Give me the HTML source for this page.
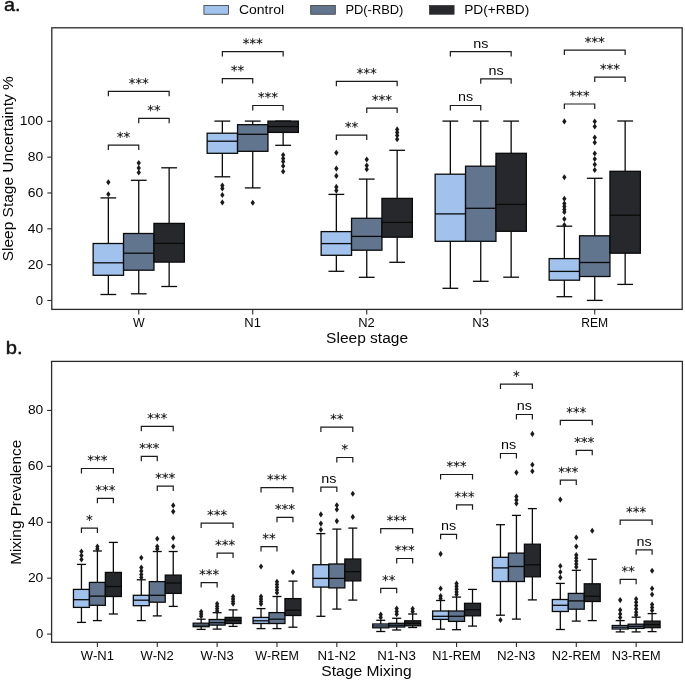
<!DOCTYPE html>
<html><head><meta charset="utf-8"><title>Sleep stage box plots</title>
<style>html,body{margin:0;padding:0;background:#fff;width:685px;height:682px;overflow:hidden}
svg text{font-family:"Liberation Sans",sans-serif;font-kerning:none} svg{filter:blur(0.3px)}</style></head>
<body>
<svg width="685" height="682" viewBox="0 0 685 682" style="position:absolute;left:0;top:0">
<rect width="685" height="682" fill="#fff"/>
<g font-family="Liberation Sans, sans-serif" style="font-kerning:none">
<text x="4.06" y="11" font-size="19" textLength="16.56" lengthAdjust="spacingAndGlyphs" fill="#111" stroke="#111" stroke-width="0.45">a.</text>
<text x="5.7" y="354.3" font-size="19" textLength="16.85" lengthAdjust="spacingAndGlyphs" fill="#111" stroke="#111" stroke-width="0.45">b.</text>
<rect x="203.9" y="5.5" width="24.6" height="8.75" fill="#a0c2ec" stroke="#383838" stroke-width="0.8"/>
<text x="238.99" y="14" font-size="12.8" textLength="45.04" lengthAdjust="spacingAndGlyphs" fill="#050505" >Control</text>
<rect x="310.7" y="5.5" width="24.6" height="8.75" fill="#61758f" stroke="#383838" stroke-width="0.8"/>
<text x="345.44" y="14" font-size="12.8" textLength="57.96" lengthAdjust="spacingAndGlyphs" fill="#050505" >PD(-RBD)</text>
<rect x="429.5" y="5.5" width="24.6" height="8.75" fill="#26282b" stroke="#383838" stroke-width="0.8"/>
<text x="464.18" y="14" font-size="12.8" textLength="65.07" lengthAdjust="spacingAndGlyphs" fill="#050505" >PD(+RBD)</text>
<line x1="47.3" y1="300.5" x2="51.8" y2="300.5" stroke="#2a2a2a" stroke-width="1.1"/>
<text x="35.76" y="304.6" font-size="13.31" textLength="7.33" lengthAdjust="spacingAndGlyphs" fill="#050505" >0</text>
<line x1="47.3" y1="264.66" x2="51.8" y2="264.66" stroke="#2a2a2a" stroke-width="1.1"/>
<text x="27.71" y="268.76" font-size="13.31" textLength="15.4" lengthAdjust="spacingAndGlyphs" fill="#050505" >20</text>
<line x1="47.3" y1="228.82" x2="51.8" y2="228.82" stroke="#2a2a2a" stroke-width="1.1"/>
<text x="27.79" y="232.92" font-size="13.31" textLength="15.32" lengthAdjust="spacingAndGlyphs" fill="#050505" >40</text>
<line x1="47.3" y1="192.98" x2="51.8" y2="192.98" stroke="#2a2a2a" stroke-width="1.1"/>
<text x="27.66" y="197.08" font-size="13.31" textLength="15.45" lengthAdjust="spacingAndGlyphs" fill="#050505" >60</text>
<line x1="47.3" y1="157.14" x2="51.8" y2="157.14" stroke="#2a2a2a" stroke-width="1.1"/>
<text x="27.74" y="161.24" font-size="13.31" textLength="15.37" lengthAdjust="spacingAndGlyphs" fill="#050505" >80</text>
<line x1="47.3" y1="121.3" x2="51.8" y2="121.3" stroke="#2a2a2a" stroke-width="1.1"/>
<text x="19.85" y="125.4" font-size="13.31" textLength="23.26" lengthAdjust="spacingAndGlyphs" fill="#050505" >100</text>
<text transform="translate(13.1,0) rotate(-90)" x="-261.3" y="0" font-size="14.7" textLength="185.06" lengthAdjust="spacingAndGlyphs" fill="#050505">Sleep Stage Uncertainty %</text>
<line x1="138.75" y1="309.4" x2="138.75" y2="314.4" stroke="#2a2a2a" stroke-width="1.1"/>
<text x="132.93" y="326.5" font-size="13.25" textLength="11.63" lengthAdjust="spacingAndGlyphs" fill="#050505" >W</text>
<line x1="252.75" y1="309.4" x2="252.75" y2="314.4" stroke="#2a2a2a" stroke-width="1.1"/>
<text x="244.26" y="326.5" font-size="13.25" textLength="16.62" lengthAdjust="spacingAndGlyphs" fill="#050505" >N1</text>
<line x1="366.75" y1="309.4" x2="366.75" y2="314.4" stroke="#2a2a2a" stroke-width="1.1"/>
<text x="358.26" y="326.5" font-size="13.25" textLength="16.54" lengthAdjust="spacingAndGlyphs" fill="#050505" >N2</text>
<line x1="480.75" y1="309.4" x2="480.75" y2="314.4" stroke="#2a2a2a" stroke-width="1.1"/>
<text x="472.25" y="326.5" font-size="13.25" textLength="16.72" lengthAdjust="spacingAndGlyphs" fill="#050505" >N3</text>
<line x1="594.75" y1="309.4" x2="594.75" y2="314.4" stroke="#2a2a2a" stroke-width="1.1"/>
<text x="581.3" y="326.5" font-size="13.25" textLength="26.91" lengthAdjust="spacingAndGlyphs" fill="#050505" >REM</text>
<text x="326.12" y="342.7" font-size="14.7" textLength="81.93" lengthAdjust="spacingAndGlyphs" fill="#050505" >Sleep stage</text>
<line x1="108.35" y1="197.9" x2="108.35" y2="243.5" stroke="#0a0a0a" stroke-width="1.3"/>
<line x1="108.35" y1="275.3" x2="108.35" y2="294.5" stroke="#0a0a0a" stroke-width="1.3"/>
<line x1="100.45" y1="197.9" x2="116.25" y2="197.9" stroke="#0a0a0a" stroke-width="1.3"/>
<line x1="100.45" y1="294.5" x2="116.25" y2="294.5" stroke="#0a0a0a" stroke-width="1.3"/>
<rect x="93.15" y="243.5" width="30.4" height="31.8" fill="#a0c2ec" stroke="#0a0a0a" stroke-width="1.3"/>
<line x1="93.15" y1="262.8" x2="123.55" y2="262.8" stroke="#0a0a0a" stroke-width="1.3"/>
<path d="M108.35 179.25L110.5 182.3L108.35 185.35L106.2 182.3Z" fill="#1a1a1a"/>
<path d="M108.35 191.25L110.5 194.3L108.35 197.35L106.2 194.3Z" fill="#1a1a1a"/>
<line x1="138.75" y1="180.3" x2="138.75" y2="233.5" stroke="#0a0a0a" stroke-width="1.3"/>
<line x1="138.75" y1="270.2" x2="138.75" y2="293.8" stroke="#0a0a0a" stroke-width="1.3"/>
<line x1="130.85" y1="180.3" x2="146.65" y2="180.3" stroke="#0a0a0a" stroke-width="1.3"/>
<line x1="130.85" y1="293.8" x2="146.65" y2="293.8" stroke="#0a0a0a" stroke-width="1.3"/>
<rect x="123.55" y="233.5" width="30.4" height="36.7" fill="#61758f" stroke="#0a0a0a" stroke-width="1.3"/>
<line x1="123.55" y1="253.2" x2="153.95" y2="253.2" stroke="#0a0a0a" stroke-width="1.3"/>
<path d="M138.75 159.95L140.9 163L138.75 166.05L136.6 163Z" fill="#1a1a1a"/>
<path d="M138.75 164.95L140.9 168L138.75 171.05L136.6 168Z" fill="#1a1a1a"/>
<path d="M138.75 169.45L140.9 172.5L138.75 175.55L136.6 172.5Z" fill="#1a1a1a"/>
<line x1="169.15" y1="167.8" x2="169.15" y2="223.4" stroke="#0a0a0a" stroke-width="1.3"/>
<line x1="169.15" y1="262.1" x2="169.15" y2="286.5" stroke="#0a0a0a" stroke-width="1.3"/>
<line x1="161.25" y1="167.8" x2="177.05" y2="167.8" stroke="#0a0a0a" stroke-width="1.3"/>
<line x1="161.25" y1="286.5" x2="177.05" y2="286.5" stroke="#0a0a0a" stroke-width="1.3"/>
<rect x="153.95" y="223.4" width="30.4" height="38.7" fill="#26282b" stroke="#0a0a0a" stroke-width="1.3"/>
<line x1="153.95" y1="243.4" x2="184.35" y2="243.4" stroke="#0a0a0a" stroke-width="1.3"/>
<line x1="222.35" y1="121.1" x2="222.35" y2="133.2" stroke="#0a0a0a" stroke-width="1.3"/>
<line x1="222.35" y1="153.3" x2="222.35" y2="176.8" stroke="#0a0a0a" stroke-width="1.3"/>
<line x1="214.45" y1="121.1" x2="230.25" y2="121.1" stroke="#0a0a0a" stroke-width="1.3"/>
<line x1="214.45" y1="176.8" x2="230.25" y2="176.8" stroke="#0a0a0a" stroke-width="1.3"/>
<rect x="207.15" y="133.2" width="30.4" height="20.1" fill="#a0c2ec" stroke="#0a0a0a" stroke-width="1.3"/>
<line x1="207.15" y1="141.2" x2="237.55" y2="141.2" stroke="#0a0a0a" stroke-width="1.3"/>
<path d="M222.35 182.45L224.5 185.5L222.35 188.55L220.2 185.5Z" fill="#1a1a1a"/>
<path d="M222.35 185.45L224.5 188.5L222.35 191.55L220.2 188.5Z" fill="#1a1a1a"/>
<path d="M222.35 191.95L224.5 195L222.35 198.05L220.2 195Z" fill="#1a1a1a"/>
<path d="M222.35 199.35L224.5 202.4L222.35 205.45L220.2 202.4Z" fill="#1a1a1a"/>
<line x1="252.75" y1="121.1" x2="252.75" y2="124.7" stroke="#0a0a0a" stroke-width="1.3"/>
<line x1="252.75" y1="151.3" x2="252.75" y2="187.9" stroke="#0a0a0a" stroke-width="1.3"/>
<line x1="244.85" y1="121.1" x2="260.65" y2="121.1" stroke="#0a0a0a" stroke-width="1.3"/>
<line x1="244.85" y1="187.9" x2="260.65" y2="187.9" stroke="#0a0a0a" stroke-width="1.3"/>
<rect x="237.55" y="124.7" width="30.4" height="26.6" fill="#61758f" stroke="#0a0a0a" stroke-width="1.3"/>
<line x1="237.55" y1="134.3" x2="267.95" y2="134.3" stroke="#0a0a0a" stroke-width="1.3"/>
<path d="M252.75 199.75L254.9 202.8L252.75 205.85L250.6 202.8Z" fill="#1a1a1a"/>
<line x1="283.15" y1="121.1" x2="283.15" y2="121.1" stroke="#0a0a0a" stroke-width="1.3"/>
<line x1="283.15" y1="132.4" x2="283.15" y2="145.3" stroke="#0a0a0a" stroke-width="1.3"/>
<line x1="275.25" y1="121.1" x2="291.05" y2="121.1" stroke="#0a0a0a" stroke-width="1.3"/>
<line x1="275.25" y1="145.3" x2="291.05" y2="145.3" stroke="#0a0a0a" stroke-width="1.3"/>
<rect x="267.95" y="121.1" width="30.4" height="11.3" fill="#26282b" stroke="#0a0a0a" stroke-width="1.3"/>
<line x1="267.95" y1="126.6" x2="298.35" y2="126.6" stroke="#0a0a0a" stroke-width="1.3"/>
<path d="M283.15 151.95L285.3 155L283.15 158.05L281 155Z" fill="#1a1a1a"/>
<path d="M283.15 155.45L285.3 158.5L283.15 161.55L281 158.5Z" fill="#1a1a1a"/>
<path d="M283.15 158.45L285.3 161.5L283.15 164.55L281 161.5Z" fill="#1a1a1a"/>
<path d="M283.15 162.95L285.3 166L283.15 169.05L281 166Z" fill="#1a1a1a"/>
<path d="M283.15 168.45L285.3 171.5L283.15 174.55L281 171.5Z" fill="#1a1a1a"/>
<line x1="336.35" y1="194.4" x2="336.35" y2="231.6" stroke="#0a0a0a" stroke-width="1.3"/>
<line x1="336.35" y1="255.3" x2="336.35" y2="271.3" stroke="#0a0a0a" stroke-width="1.3"/>
<line x1="328.45" y1="194.4" x2="344.25" y2="194.4" stroke="#0a0a0a" stroke-width="1.3"/>
<line x1="328.45" y1="271.3" x2="344.25" y2="271.3" stroke="#0a0a0a" stroke-width="1.3"/>
<rect x="321.15" y="231.6" width="30.4" height="23.7" fill="#a0c2ec" stroke="#0a0a0a" stroke-width="1.3"/>
<line x1="321.15" y1="243.6" x2="351.55" y2="243.6" stroke="#0a0a0a" stroke-width="1.3"/>
<path d="M336.35 149.75L338.5 152.8L336.35 155.85L334.2 152.8Z" fill="#1a1a1a"/>
<path d="M336.35 165.55L338.5 168.6L336.35 171.65L334.2 168.6Z" fill="#1a1a1a"/>
<path d="M336.35 172.85L338.5 175.9L336.35 178.95L334.2 175.9Z" fill="#1a1a1a"/>
<path d="M336.35 183.85L338.5 186.9L336.35 189.95L334.2 186.9Z" fill="#1a1a1a"/>
<path d="M336.35 187.55L338.5 190.6L336.35 193.65L334.2 190.6Z" fill="#1a1a1a"/>
<line x1="366.75" y1="179.1" x2="366.75" y2="218.3" stroke="#0a0a0a" stroke-width="1.3"/>
<line x1="366.75" y1="250.2" x2="366.75" y2="277.3" stroke="#0a0a0a" stroke-width="1.3"/>
<line x1="358.85" y1="179.1" x2="374.65" y2="179.1" stroke="#0a0a0a" stroke-width="1.3"/>
<line x1="358.85" y1="277.3" x2="374.65" y2="277.3" stroke="#0a0a0a" stroke-width="1.3"/>
<rect x="351.55" y="218.3" width="30.4" height="31.9" fill="#61758f" stroke="#0a0a0a" stroke-width="1.3"/>
<line x1="351.55" y1="236.4" x2="381.95" y2="236.4" stroke="#0a0a0a" stroke-width="1.3"/>
<path d="M366.75 156.45L368.9 159.5L366.75 162.55L364.6 159.5Z" fill="#1a1a1a"/>
<path d="M366.75 162.45L368.9 165.5L366.75 168.55L364.6 165.5Z" fill="#1a1a1a"/>
<path d="M366.75 166.25L368.9 169.3L366.75 172.35L364.6 169.3Z" fill="#1a1a1a"/>
<line x1="397.15" y1="150.3" x2="397.15" y2="198.4" stroke="#0a0a0a" stroke-width="1.3"/>
<line x1="397.15" y1="237.2" x2="397.15" y2="262.3" stroke="#0a0a0a" stroke-width="1.3"/>
<line x1="389.25" y1="150.3" x2="405.05" y2="150.3" stroke="#0a0a0a" stroke-width="1.3"/>
<line x1="389.25" y1="262.3" x2="405.05" y2="262.3" stroke="#0a0a0a" stroke-width="1.3"/>
<rect x="381.95" y="198.4" width="30.4" height="38.8" fill="#26282b" stroke="#0a0a0a" stroke-width="1.3"/>
<line x1="381.95" y1="222.4" x2="412.35" y2="222.4" stroke="#0a0a0a" stroke-width="1.3"/>
<path d="M397.15 126.35L399.3 129.4L397.15 132.45L395 129.4Z" fill="#1a1a1a"/>
<path d="M397.15 129.35L399.3 132.4L397.15 135.45L395 132.4Z" fill="#1a1a1a"/>
<path d="M397.15 132.35L399.3 135.4L397.15 138.45L395 135.4Z" fill="#1a1a1a"/>
<path d="M397.15 136.25L399.3 139.3L397.15 142.35L395 139.3Z" fill="#1a1a1a"/>
<line x1="450.35" y1="121.1" x2="450.35" y2="174.2" stroke="#0a0a0a" stroke-width="1.3"/>
<line x1="450.35" y1="241.3" x2="450.35" y2="288.3" stroke="#0a0a0a" stroke-width="1.3"/>
<line x1="442.45" y1="121.1" x2="458.25" y2="121.1" stroke="#0a0a0a" stroke-width="1.3"/>
<line x1="442.45" y1="288.3" x2="458.25" y2="288.3" stroke="#0a0a0a" stroke-width="1.3"/>
<rect x="435.15" y="174.2" width="30.4" height="67.1" fill="#a0c2ec" stroke="#0a0a0a" stroke-width="1.3"/>
<line x1="435.15" y1="213.9" x2="465.55" y2="213.9" stroke="#0a0a0a" stroke-width="1.3"/>
<line x1="480.75" y1="121.1" x2="480.75" y2="166.2" stroke="#0a0a0a" stroke-width="1.3"/>
<line x1="480.75" y1="241.3" x2="480.75" y2="281.3" stroke="#0a0a0a" stroke-width="1.3"/>
<line x1="472.85" y1="121.1" x2="488.65" y2="121.1" stroke="#0a0a0a" stroke-width="1.3"/>
<line x1="472.85" y1="281.3" x2="488.65" y2="281.3" stroke="#0a0a0a" stroke-width="1.3"/>
<rect x="465.55" y="166.2" width="30.4" height="75.1" fill="#61758f" stroke="#0a0a0a" stroke-width="1.3"/>
<line x1="465.55" y1="208.3" x2="495.95" y2="208.3" stroke="#0a0a0a" stroke-width="1.3"/>
<line x1="511.15" y1="121.1" x2="511.15" y2="153.3" stroke="#0a0a0a" stroke-width="1.3"/>
<line x1="511.15" y1="231.3" x2="511.15" y2="277.2" stroke="#0a0a0a" stroke-width="1.3"/>
<line x1="503.25" y1="121.1" x2="519.05" y2="121.1" stroke="#0a0a0a" stroke-width="1.3"/>
<line x1="503.25" y1="277.2" x2="519.05" y2="277.2" stroke="#0a0a0a" stroke-width="1.3"/>
<rect x="495.95" y="153.3" width="30.4" height="78" fill="#26282b" stroke="#0a0a0a" stroke-width="1.3"/>
<line x1="495.95" y1="204.4" x2="526.35" y2="204.4" stroke="#0a0a0a" stroke-width="1.3"/>
<line x1="564.35" y1="226.2" x2="564.35" y2="258.6" stroke="#0a0a0a" stroke-width="1.3"/>
<line x1="564.35" y1="280.2" x2="564.35" y2="296.7" stroke="#0a0a0a" stroke-width="1.3"/>
<line x1="556.45" y1="226.2" x2="572.25" y2="226.2" stroke="#0a0a0a" stroke-width="1.3"/>
<line x1="556.45" y1="296.7" x2="572.25" y2="296.7" stroke="#0a0a0a" stroke-width="1.3"/>
<rect x="549.15" y="258.6" width="30.4" height="21.6" fill="#a0c2ec" stroke="#0a0a0a" stroke-width="1.3"/>
<line x1="549.15" y1="271.4" x2="579.55" y2="271.4" stroke="#0a0a0a" stroke-width="1.3"/>
<path d="M564.35 118.35L566.5 121.4L564.35 124.45L562.2 121.4Z" fill="#1a1a1a"/>
<path d="M564.35 174.15L566.5 177.2L564.35 180.25L562.2 177.2Z" fill="#1a1a1a"/>
<path d="M564.35 195.65L566.5 198.7L564.35 201.75L562.2 198.7Z" fill="#1a1a1a"/>
<path d="M564.35 200.45L566.5 203.5L564.35 206.55L562.2 203.5Z" fill="#1a1a1a"/>
<path d="M564.35 203.45L566.5 206.5L564.35 209.55L562.2 206.5Z" fill="#1a1a1a"/>
<path d="M564.35 206.45L566.5 209.5L564.35 212.55L562.2 209.5Z" fill="#1a1a1a"/>
<path d="M564.35 208.95L566.5 212L564.35 215.05L562.2 212Z" fill="#1a1a1a"/>
<path d="M564.35 215.95L566.5 219L564.35 222.05L562.2 219Z" fill="#1a1a1a"/>
<path d="M564.35 221.95L566.5 225L564.35 228.05L562.2 225Z" fill="#1a1a1a"/>
<line x1="594.75" y1="178.3" x2="594.75" y2="235.8" stroke="#0a0a0a" stroke-width="1.3"/>
<line x1="594.75" y1="276.5" x2="594.75" y2="300.4" stroke="#0a0a0a" stroke-width="1.3"/>
<line x1="586.85" y1="178.3" x2="602.65" y2="178.3" stroke="#0a0a0a" stroke-width="1.3"/>
<line x1="586.85" y1="300.4" x2="602.65" y2="300.4" stroke="#0a0a0a" stroke-width="1.3"/>
<rect x="579.55" y="235.8" width="30.4" height="40.7" fill="#61758f" stroke="#0a0a0a" stroke-width="1.3"/>
<line x1="579.55" y1="262.5" x2="609.95" y2="262.5" stroke="#0a0a0a" stroke-width="1.3"/>
<path d="M594.75 118.45L596.9 121.5L594.75 124.55L592.6 121.5Z" fill="#1a1a1a"/>
<path d="M594.75 123.45L596.9 126.5L594.75 129.55L592.6 126.5Z" fill="#1a1a1a"/>
<path d="M594.75 134.45L596.9 137.5L594.75 140.55L592.6 137.5Z" fill="#1a1a1a"/>
<path d="M594.75 139.45L596.9 142.5L594.75 145.55L592.6 142.5Z" fill="#1a1a1a"/>
<path d="M594.75 150.45L596.9 153.5L594.75 156.55L592.6 153.5Z" fill="#1a1a1a"/>
<path d="M594.75 155.95L596.9 159L594.75 162.05L592.6 159Z" fill="#1a1a1a"/>
<path d="M594.75 161.45L596.9 164.5L594.75 167.55L592.6 164.5Z" fill="#1a1a1a"/>
<path d="M594.75 166.95L596.9 170L594.75 173.05L592.6 170Z" fill="#1a1a1a"/>
<line x1="625.15" y1="121" x2="625.15" y2="171.3" stroke="#0a0a0a" stroke-width="1.3"/>
<line x1="625.15" y1="253.2" x2="625.15" y2="284.4" stroke="#0a0a0a" stroke-width="1.3"/>
<line x1="617.25" y1="121" x2="633.05" y2="121" stroke="#0a0a0a" stroke-width="1.3"/>
<line x1="617.25" y1="284.4" x2="633.05" y2="284.4" stroke="#0a0a0a" stroke-width="1.3"/>
<rect x="609.95" y="171.3" width="30.4" height="81.9" fill="#26282b" stroke="#0a0a0a" stroke-width="1.3"/>
<line x1="609.95" y1="215.2" x2="640.35" y2="215.2" stroke="#0a0a0a" stroke-width="1.3"/>
<path d="M108.35 150.1V145.2H138.75V150.1" stroke="#1a1a1a" stroke-width="1.2" fill="none"/>
<path transform="translate(116.85,141.79) scale(0.00654,-0.00654)" d="M963 1247 604 1053 963 858 905 760 569 963V586H455V963L119 760L61 858L420 1053L61 1247L119 1346L455 1143V1520H569V1143L905 1346Z" fill="#111" stroke="#111" stroke-width="18.3" stroke-linejoin="round"/>
<path transform="translate(123.55,141.79) scale(0.00654,-0.00654)" d="M963 1247 604 1053 963 858 905 760 569 963V586H455V963L119 760L61 858L420 1053L61 1247L119 1346L455 1143V1520H569V1143L905 1346Z" fill="#111" stroke="#111" stroke-width="18.3" stroke-linejoin="round"/>
<path d="M138.75 123.3V118.4H169.15V123.3" stroke="#1a1a1a" stroke-width="1.2" fill="none"/>
<path transform="translate(147.25,114.99) scale(0.00654,-0.00654)" d="M963 1247 604 1053 963 858 905 760 569 963V586H455V963L119 760L61 858L420 1053L61 1247L119 1346L455 1143V1520H569V1143L905 1346Z" fill="#111" stroke="#111" stroke-width="18.3" stroke-linejoin="round"/>
<path transform="translate(153.95,114.99) scale(0.00654,-0.00654)" d="M963 1247 604 1053 963 858 905 760 569 963V586H455V963L119 760L61 858L420 1053L61 1247L119 1346L455 1143V1520H569V1143L905 1346Z" fill="#111" stroke="#111" stroke-width="18.3" stroke-linejoin="round"/>
<path d="M108.35 96.3V91.4H169.15V96.3" stroke="#1a1a1a" stroke-width="1.2" fill="none"/>
<path transform="translate(128.7,87.99) scale(0.00654,-0.00654)" d="M963 1247 604 1053 963 858 905 760 569 963V586H455V963L119 760L61 858L420 1053L61 1247L119 1346L455 1143V1520H569V1143L905 1346Z" fill="#111" stroke="#111" stroke-width="18.3" stroke-linejoin="round"/>
<path transform="translate(135.4,87.99) scale(0.00654,-0.00654)" d="M963 1247 604 1053 963 858 905 760 569 963V586H455V963L119 760L61 858L420 1053L61 1247L119 1346L455 1143V1520H569V1143L905 1346Z" fill="#111" stroke="#111" stroke-width="18.3" stroke-linejoin="round"/>
<path transform="translate(142.1,87.99) scale(0.00654,-0.00654)" d="M963 1247 604 1053 963 858 905 760 569 963V586H455V963L119 760L61 858L420 1053L61 1247L119 1346L455 1143V1520H569V1143L905 1346Z" fill="#111" stroke="#111" stroke-width="18.3" stroke-linejoin="round"/>
<path d="M252.75 110.4V105.5H283.15V110.4" stroke="#1a1a1a" stroke-width="1.2" fill="none"/>
<path transform="translate(257.9,102.09) scale(0.00654,-0.00654)" d="M963 1247 604 1053 963 858 905 760 569 963V586H455V963L119 760L61 858L420 1053L61 1247L119 1346L455 1143V1520H569V1143L905 1346Z" fill="#111" stroke="#111" stroke-width="18.3" stroke-linejoin="round"/>
<path transform="translate(264.6,102.09) scale(0.00654,-0.00654)" d="M963 1247 604 1053 963 858 905 760 569 963V586H455V963L119 760L61 858L420 1053L61 1247L119 1346L455 1143V1520H569V1143L905 1346Z" fill="#111" stroke="#111" stroke-width="18.3" stroke-linejoin="round"/>
<path transform="translate(271.3,102.09) scale(0.00654,-0.00654)" d="M963 1247 604 1053 963 858 905 760 569 963V586H455V963L119 760L61 858L420 1053L61 1247L119 1346L455 1143V1520H569V1143L905 1346Z" fill="#111" stroke="#111" stroke-width="18.3" stroke-linejoin="round"/>
<path d="M222.35 83.6V78.7H252.75V83.6" stroke="#1a1a1a" stroke-width="1.2" fill="none"/>
<path transform="translate(230.85,75.29) scale(0.00654,-0.00654)" d="M963 1247 604 1053 963 858 905 760 569 963V586H455V963L119 760L61 858L420 1053L61 1247L119 1346L455 1143V1520H569V1143L905 1346Z" fill="#111" stroke="#111" stroke-width="18.3" stroke-linejoin="round"/>
<path transform="translate(237.55,75.29) scale(0.00654,-0.00654)" d="M963 1247 604 1053 963 858 905 760 569 963V586H455V963L119 760L61 858L420 1053L61 1247L119 1346L455 1143V1520H569V1143L905 1346Z" fill="#111" stroke="#111" stroke-width="18.3" stroke-linejoin="round"/>
<path d="M222.35 56.5V51.6H283.15V56.5" stroke="#1a1a1a" stroke-width="1.2" fill="none"/>
<path transform="translate(242.7,48.19) scale(0.00654,-0.00654)" d="M963 1247 604 1053 963 858 905 760 569 963V586H455V963L119 760L61 858L420 1053L61 1247L119 1346L455 1143V1520H569V1143L905 1346Z" fill="#111" stroke="#111" stroke-width="18.3" stroke-linejoin="round"/>
<path transform="translate(249.4,48.19) scale(0.00654,-0.00654)" d="M963 1247 604 1053 963 858 905 760 569 963V586H455V963L119 760L61 858L420 1053L61 1247L119 1346L455 1143V1520H569V1143L905 1346Z" fill="#111" stroke="#111" stroke-width="18.3" stroke-linejoin="round"/>
<path transform="translate(256.1,48.19) scale(0.00654,-0.00654)" d="M963 1247 604 1053 963 858 905 760 569 963V586H455V963L119 760L61 858L420 1053L61 1247L119 1346L455 1143V1520H569V1143L905 1346Z" fill="#111" stroke="#111" stroke-width="18.3" stroke-linejoin="round"/>
<path d="M336.35 140.1V135.2H366.75V140.1" stroke="#1a1a1a" stroke-width="1.2" fill="none"/>
<path transform="translate(344.85,131.79) scale(0.00654,-0.00654)" d="M963 1247 604 1053 963 858 905 760 569 963V586H455V963L119 760L61 858L420 1053L61 1247L119 1346L455 1143V1520H569V1143L905 1346Z" fill="#111" stroke="#111" stroke-width="18.3" stroke-linejoin="round"/>
<path transform="translate(351.55,131.79) scale(0.00654,-0.00654)" d="M963 1247 604 1053 963 858 905 760 569 963V586H455V963L119 760L61 858L420 1053L61 1247L119 1346L455 1143V1520H569V1143L905 1346Z" fill="#111" stroke="#111" stroke-width="18.3" stroke-linejoin="round"/>
<path d="M366.75 113.1V108.2H397.15V113.1" stroke="#1a1a1a" stroke-width="1.2" fill="none"/>
<path transform="translate(371.9,104.79) scale(0.00654,-0.00654)" d="M963 1247 604 1053 963 858 905 760 569 963V586H455V963L119 760L61 858L420 1053L61 1247L119 1346L455 1143V1520H569V1143L905 1346Z" fill="#111" stroke="#111" stroke-width="18.3" stroke-linejoin="round"/>
<path transform="translate(378.6,104.79) scale(0.00654,-0.00654)" d="M963 1247 604 1053 963 858 905 760 569 963V586H455V963L119 760L61 858L420 1053L61 1247L119 1346L455 1143V1520H569V1143L905 1346Z" fill="#111" stroke="#111" stroke-width="18.3" stroke-linejoin="round"/>
<path transform="translate(385.3,104.79) scale(0.00654,-0.00654)" d="M963 1247 604 1053 963 858 905 760 569 963V586H455V963L119 760L61 858L420 1053L61 1247L119 1346L455 1143V1520H569V1143L905 1346Z" fill="#111" stroke="#111" stroke-width="18.3" stroke-linejoin="round"/>
<path d="M336.35 86.3V81.4H397.15V86.3" stroke="#1a1a1a" stroke-width="1.2" fill="none"/>
<path transform="translate(356.7,77.99) scale(0.00654,-0.00654)" d="M963 1247 604 1053 963 858 905 760 569 963V586H455V963L119 760L61 858L420 1053L61 1247L119 1346L455 1143V1520H569V1143L905 1346Z" fill="#111" stroke="#111" stroke-width="18.3" stroke-linejoin="round"/>
<path transform="translate(363.4,77.99) scale(0.00654,-0.00654)" d="M963 1247 604 1053 963 858 905 760 569 963V586H455V963L119 760L61 858L420 1053L61 1247L119 1346L455 1143V1520H569V1143L905 1346Z" fill="#111" stroke="#111" stroke-width="18.3" stroke-linejoin="round"/>
<path transform="translate(370.1,77.99) scale(0.00654,-0.00654)" d="M963 1247 604 1053 963 858 905 760 569 963V586H455V963L119 760L61 858L420 1053L61 1247L119 1346L455 1143V1520H569V1143L905 1346Z" fill="#111" stroke="#111" stroke-width="18.3" stroke-linejoin="round"/>
<path d="M450.35 110.4V105.5H480.75V110.4" stroke="#1a1a1a" stroke-width="1.2" fill="none"/>
<text x="458.03" y="101.3" font-size="13.5" textLength="15.18" lengthAdjust="spacingAndGlyphs" fill="#050505" >ns</text>
<path d="M480.75 83.7V78.8H511.15V83.7" stroke="#1a1a1a" stroke-width="1.2" fill="none"/>
<text x="488.43" y="74.6" font-size="13.5" textLength="15.18" lengthAdjust="spacingAndGlyphs" fill="#050505" >ns</text>
<path d="M450.35 56.6V51.7H511.15V56.6" stroke="#1a1a1a" stroke-width="1.2" fill="none"/>
<text x="473.23" y="47.5" font-size="13.5" textLength="15.18" lengthAdjust="spacingAndGlyphs" fill="#050505" >ns</text>
<path d="M564.35 108.9V104H594.75V108.9" stroke="#1a1a1a" stroke-width="1.2" fill="none"/>
<path transform="translate(569.5,100.59) scale(0.00654,-0.00654)" d="M963 1247 604 1053 963 858 905 760 569 963V586H455V963L119 760L61 858L420 1053L61 1247L119 1346L455 1143V1520H569V1143L905 1346Z" fill="#111" stroke="#111" stroke-width="18.3" stroke-linejoin="round"/>
<path transform="translate(576.2,100.59) scale(0.00654,-0.00654)" d="M963 1247 604 1053 963 858 905 760 569 963V586H455V963L119 760L61 858L420 1053L61 1247L119 1346L455 1143V1520H569V1143L905 1346Z" fill="#111" stroke="#111" stroke-width="18.3" stroke-linejoin="round"/>
<path transform="translate(582.9,100.59) scale(0.00654,-0.00654)" d="M963 1247 604 1053 963 858 905 760 569 963V586H455V963L119 760L61 858L420 1053L61 1247L119 1346L455 1143V1520H569V1143L905 1346Z" fill="#111" stroke="#111" stroke-width="18.3" stroke-linejoin="round"/>
<path d="M594.75 82.1V77.2H625.15V82.1" stroke="#1a1a1a" stroke-width="1.2" fill="none"/>
<path transform="translate(599.9,73.79) scale(0.00654,-0.00654)" d="M963 1247 604 1053 963 858 905 760 569 963V586H455V963L119 760L61 858L420 1053L61 1247L119 1346L455 1143V1520H569V1143L905 1346Z" fill="#111" stroke="#111" stroke-width="18.3" stroke-linejoin="round"/>
<path transform="translate(606.6,73.79) scale(0.00654,-0.00654)" d="M963 1247 604 1053 963 858 905 760 569 963V586H455V963L119 760L61 858L420 1053L61 1247L119 1346L455 1143V1520H569V1143L905 1346Z" fill="#111" stroke="#111" stroke-width="18.3" stroke-linejoin="round"/>
<path transform="translate(613.3,73.79) scale(0.00654,-0.00654)" d="M963 1247 604 1053 963 858 905 760 569 963V586H455V963L119 760L61 858L420 1053L61 1247L119 1346L455 1143V1520H569V1143L905 1346Z" fill="#111" stroke="#111" stroke-width="18.3" stroke-linejoin="round"/>
<path d="M564.35 55.1V50.2H625.15V55.1" stroke="#1a1a1a" stroke-width="1.2" fill="none"/>
<path transform="translate(584.7,46.79) scale(0.00654,-0.00654)" d="M963 1247 604 1053 963 858 905 760 569 963V586H455V963L119 760L61 858L420 1053L61 1247L119 1346L455 1143V1520H569V1143L905 1346Z" fill="#111" stroke="#111" stroke-width="18.3" stroke-linejoin="round"/>
<path transform="translate(591.4,46.79) scale(0.00654,-0.00654)" d="M963 1247 604 1053 963 858 905 760 569 963V586H455V963L119 760L61 858L420 1053L61 1247L119 1346L455 1143V1520H569V1143L905 1346Z" fill="#111" stroke="#111" stroke-width="18.3" stroke-linejoin="round"/>
<path transform="translate(598.1,46.79) scale(0.00654,-0.00654)" d="M963 1247 604 1053 963 858 905 760 569 963V586H455V963L119 760L61 858L420 1053L61 1247L119 1346L455 1143V1520H569V1143L905 1346Z" fill="#111" stroke="#111" stroke-width="18.3" stroke-linejoin="round"/>
<rect x="51.8" y="27.8" width="630.4" height="281.6" fill="none" stroke="#2a2a2a" stroke-width="1.3"/>
<line x1="47.1" y1="634.1" x2="51.6" y2="634.1" stroke="#2a2a2a" stroke-width="1.1"/>
<text x="35.96" y="638.1" font-size="13.31" textLength="7.33" lengthAdjust="spacingAndGlyphs" fill="#050505" >0</text>
<line x1="47.1" y1="578.18" x2="51.6" y2="578.18" stroke="#2a2a2a" stroke-width="1.1"/>
<text x="27.91" y="582.18" font-size="13.31" textLength="15.4" lengthAdjust="spacingAndGlyphs" fill="#050505" >20</text>
<line x1="47.1" y1="522.26" x2="51.6" y2="522.26" stroke="#2a2a2a" stroke-width="1.1"/>
<text x="27.99" y="526.26" font-size="13.31" textLength="15.32" lengthAdjust="spacingAndGlyphs" fill="#050505" >40</text>
<line x1="47.1" y1="466.34" x2="51.6" y2="466.34" stroke="#2a2a2a" stroke-width="1.1"/>
<text x="27.86" y="470.34" font-size="13.31" textLength="15.45" lengthAdjust="spacingAndGlyphs" fill="#050505" >60</text>
<line x1="47.1" y1="410.42" x2="51.6" y2="410.42" stroke="#2a2a2a" stroke-width="1.1"/>
<text x="27.94" y="414.42" font-size="13.31" textLength="15.37" lengthAdjust="spacingAndGlyphs" fill="#050505" >80</text>
<text transform="translate(21,0) rotate(-90)" x="-564.86" y="0" font-size="14.7" textLength="125.14" lengthAdjust="spacingAndGlyphs" fill="#050505">Mixing Prevalence</text>
<line x1="97.4" y1="642.3" x2="97.4" y2="646.9" stroke="#2a2a2a" stroke-width="1.1"/>
<text x="80.67" y="659.6" font-size="13.25" textLength="33.3" lengthAdjust="spacingAndGlyphs" fill="#050505" >W-N1</text>
<line x1="157.26" y1="642.3" x2="157.26" y2="646.9" stroke="#2a2a2a" stroke-width="1.1"/>
<text x="140.53" y="659.6" font-size="13.25" textLength="33.22" lengthAdjust="spacingAndGlyphs" fill="#050505" >W-N2</text>
<line x1="217.12" y1="642.3" x2="217.12" y2="646.9" stroke="#2a2a2a" stroke-width="1.1"/>
<text x="200.39" y="659.6" font-size="13.25" textLength="33.39" lengthAdjust="spacingAndGlyphs" fill="#050505" >W-N3</text>
<line x1="276.98" y1="642.3" x2="276.98" y2="646.9" stroke="#2a2a2a" stroke-width="1.1"/>
<text x="255.22" y="659.6" font-size="13.25" textLength="43.68" lengthAdjust="spacingAndGlyphs" fill="#050505" >W-REM</text>
<line x1="336.84" y1="642.3" x2="336.84" y2="646.9" stroke="#2a2a2a" stroke-width="1.1"/>
<text x="317.42" y="659.6" font-size="13.25" textLength="38.4" lengthAdjust="spacingAndGlyphs" fill="#050505" >N1-N2</text>
<line x1="396.7" y1="642.3" x2="396.7" y2="646.9" stroke="#2a2a2a" stroke-width="1.1"/>
<text x="377.27" y="659.6" font-size="13.25" textLength="38.57" lengthAdjust="spacingAndGlyphs" fill="#050505" >N1-N3</text>
<line x1="456.56" y1="642.3" x2="456.56" y2="646.9" stroke="#2a2a2a" stroke-width="1.1"/>
<text x="432.15" y="659.6" font-size="13.25" textLength="48.82" lengthAdjust="spacingAndGlyphs" fill="#050505" >N1-REM</text>
<line x1="516.42" y1="642.3" x2="516.42" y2="646.9" stroke="#2a2a2a" stroke-width="1.1"/>
<text x="496.99" y="659.6" font-size="13.25" textLength="38.57" lengthAdjust="spacingAndGlyphs" fill="#050505" >N2-N3</text>
<line x1="576.28" y1="642.3" x2="576.28" y2="646.9" stroke="#2a2a2a" stroke-width="1.1"/>
<text x="551.87" y="659.6" font-size="13.25" textLength="48.82" lengthAdjust="spacingAndGlyphs" fill="#050505" >N2-REM</text>
<line x1="636.14" y1="642.3" x2="636.14" y2="646.9" stroke="#2a2a2a" stroke-width="1.1"/>
<text x="611.73" y="659.6" font-size="13.25" textLength="48.82" lengthAdjust="spacingAndGlyphs" fill="#050505" >N3-REM</text>
<text x="321.31" y="676.2" font-size="14.7" textLength="90.33" lengthAdjust="spacingAndGlyphs" fill="#050505" >Stage Mixing</text>
<line x1="81.44" y1="564.4" x2="81.44" y2="589.4" stroke="#0a0a0a" stroke-width="1.3"/>
<line x1="81.44" y1="607.4" x2="81.44" y2="622.4" stroke="#0a0a0a" stroke-width="1.3"/>
<line x1="76.94" y1="564.4" x2="85.94" y2="564.4" stroke="#0a0a0a" stroke-width="1.3"/>
<line x1="76.94" y1="622.4" x2="85.94" y2="622.4" stroke="#0a0a0a" stroke-width="1.3"/>
<rect x="73.46" y="589.4" width="15.96" height="18" fill="#a0c2ec" stroke="#0a0a0a" stroke-width="1.3"/>
<line x1="73.46" y1="599.7" x2="89.42" y2="599.7" stroke="#0a0a0a" stroke-width="1.3"/>
<path d="M81.44 548.45L83.59 551.5L81.44 554.55L79.29 551.5Z" fill="#1a1a1a"/>
<path d="M81.44 552.45L83.59 555.5L81.44 558.55L79.29 555.5Z" fill="#1a1a1a"/>
<path d="M81.44 556.45L83.59 559.5L81.44 562.55L79.29 559.5Z" fill="#1a1a1a"/>
<line x1="97.4" y1="551" x2="97.4" y2="582.4" stroke="#0a0a0a" stroke-width="1.3"/>
<line x1="97.4" y1="605.3" x2="97.4" y2="620.6" stroke="#0a0a0a" stroke-width="1.3"/>
<line x1="92.9" y1="551" x2="101.9" y2="551" stroke="#0a0a0a" stroke-width="1.3"/>
<line x1="92.9" y1="620.6" x2="101.9" y2="620.6" stroke="#0a0a0a" stroke-width="1.3"/>
<rect x="89.42" y="582.4" width="15.96" height="22.9" fill="#61758f" stroke="#0a0a0a" stroke-width="1.3"/>
<line x1="89.42" y1="596.1" x2="105.38" y2="596.1" stroke="#0a0a0a" stroke-width="1.3"/>
<path d="M97.4 543.45L99.55 546.5L97.4 549.55L95.25 546.5Z" fill="#1a1a1a"/>
<path d="M97.4 545.95L99.55 549L97.4 552.05L95.25 549Z" fill="#1a1a1a"/>
<line x1="113.36" y1="542.4" x2="113.36" y2="572.4" stroke="#0a0a0a" stroke-width="1.3"/>
<line x1="113.36" y1="596.5" x2="113.36" y2="614" stroke="#0a0a0a" stroke-width="1.3"/>
<line x1="108.86" y1="542.4" x2="117.86" y2="542.4" stroke="#0a0a0a" stroke-width="1.3"/>
<line x1="108.86" y1="614" x2="117.86" y2="614" stroke="#0a0a0a" stroke-width="1.3"/>
<rect x="105.38" y="572.4" width="15.96" height="24.1" fill="#26282b" stroke="#0a0a0a" stroke-width="1.3"/>
<line x1="105.38" y1="586.5" x2="121.34" y2="586.5" stroke="#0a0a0a" stroke-width="1.3"/>
<line x1="141.3" y1="579.8" x2="141.3" y2="595.3" stroke="#0a0a0a" stroke-width="1.3"/>
<line x1="141.3" y1="605.7" x2="141.3" y2="620.6" stroke="#0a0a0a" stroke-width="1.3"/>
<line x1="136.8" y1="579.8" x2="145.8" y2="579.8" stroke="#0a0a0a" stroke-width="1.3"/>
<line x1="136.8" y1="620.6" x2="145.8" y2="620.6" stroke="#0a0a0a" stroke-width="1.3"/>
<rect x="133.32" y="595.3" width="15.96" height="10.4" fill="#a0c2ec" stroke="#0a0a0a" stroke-width="1.3"/>
<line x1="133.32" y1="600.2" x2="149.28" y2="600.2" stroke="#0a0a0a" stroke-width="1.3"/>
<path d="M141.3 554.75L143.45 557.8L141.3 560.85L139.15 557.8Z" fill="#1a1a1a"/>
<path d="M141.3 564.45L143.45 567.5L141.3 570.55L139.15 567.5Z" fill="#1a1a1a"/>
<path d="M141.3 567.95L143.45 571L141.3 574.05L139.15 571Z" fill="#1a1a1a"/>
<path d="M141.3 571.45L143.45 574.5L141.3 577.55L139.15 574.5Z" fill="#1a1a1a"/>
<path d="M141.3 574.45L143.45 577.5L141.3 580.55L139.15 577.5Z" fill="#1a1a1a"/>
<line x1="157.26" y1="551.5" x2="157.26" y2="581.6" stroke="#0a0a0a" stroke-width="1.3"/>
<line x1="157.26" y1="602.2" x2="157.26" y2="615.9" stroke="#0a0a0a" stroke-width="1.3"/>
<line x1="152.76" y1="551.5" x2="161.76" y2="551.5" stroke="#0a0a0a" stroke-width="1.3"/>
<line x1="152.76" y1="615.9" x2="161.76" y2="615.9" stroke="#0a0a0a" stroke-width="1.3"/>
<rect x="149.28" y="581.6" width="15.96" height="20.6" fill="#61758f" stroke="#0a0a0a" stroke-width="1.3"/>
<line x1="149.28" y1="595.3" x2="165.24" y2="595.3" stroke="#0a0a0a" stroke-width="1.3"/>
<path d="M157.26 535.75L159.41 538.8L157.26 541.85L155.11 538.8Z" fill="#1a1a1a"/>
<path d="M157.26 543.45L159.41 546.5L157.26 549.55L155.11 546.5Z" fill="#1a1a1a"/>
<path d="M157.26 545.95L159.41 549L157.26 552.05L155.11 549Z" fill="#1a1a1a"/>
<line x1="173.22" y1="551.5" x2="173.22" y2="575.1" stroke="#0a0a0a" stroke-width="1.3"/>
<line x1="173.22" y1="593.4" x2="173.22" y2="606.4" stroke="#0a0a0a" stroke-width="1.3"/>
<line x1="168.72" y1="551.5" x2="177.72" y2="551.5" stroke="#0a0a0a" stroke-width="1.3"/>
<line x1="168.72" y1="606.4" x2="177.72" y2="606.4" stroke="#0a0a0a" stroke-width="1.3"/>
<rect x="165.24" y="575.1" width="15.96" height="18.3" fill="#26282b" stroke="#0a0a0a" stroke-width="1.3"/>
<line x1="165.24" y1="583" x2="181.2" y2="583" stroke="#0a0a0a" stroke-width="1.3"/>
<path d="M173.22 502.35L175.37 505.4L173.22 508.45L171.07 505.4Z" fill="#1a1a1a"/>
<path d="M173.22 508.55L175.37 511.6L173.22 514.65L171.07 511.6Z" fill="#1a1a1a"/>
<path d="M173.22 534.95L175.37 538L173.22 541.05L171.07 538Z" fill="#1a1a1a"/>
<path d="M173.22 543.45L175.37 546.5L173.22 549.55L171.07 546.5Z" fill="#1a1a1a"/>
<line x1="201.16" y1="619.2" x2="201.16" y2="623.2" stroke="#0a0a0a" stroke-width="1.3"/>
<line x1="201.16" y1="626.7" x2="201.16" y2="629.4" stroke="#0a0a0a" stroke-width="1.3"/>
<line x1="196.66" y1="619.2" x2="205.66" y2="619.2" stroke="#0a0a0a" stroke-width="1.3"/>
<line x1="196.66" y1="629.4" x2="205.66" y2="629.4" stroke="#0a0a0a" stroke-width="1.3"/>
<rect x="193.18" y="623.2" width="15.96" height="3.5" fill="#a0c2ec" stroke="#0a0a0a" stroke-width="1.3"/>
<line x1="193.18" y1="625.1" x2="209.14" y2="625.1" stroke="#0a0a0a" stroke-width="1.3"/>
<path d="M201.16 608.65L203.31 611.7L201.16 614.75L199.01 611.7Z" fill="#1a1a1a"/>
<path d="M201.16 610.95L203.31 614L201.16 617.05L199.01 614Z" fill="#1a1a1a"/>
<path d="M201.16 613.25L203.31 616.3L201.16 619.35L199.01 616.3Z" fill="#1a1a1a"/>
<line x1="217.12" y1="612.7" x2="217.12" y2="619.5" stroke="#0a0a0a" stroke-width="1.3"/>
<line x1="217.12" y1="625.1" x2="217.12" y2="629.1" stroke="#0a0a0a" stroke-width="1.3"/>
<line x1="212.62" y1="612.7" x2="221.62" y2="612.7" stroke="#0a0a0a" stroke-width="1.3"/>
<line x1="212.62" y1="629.1" x2="221.62" y2="629.1" stroke="#0a0a0a" stroke-width="1.3"/>
<rect x="209.14" y="619.5" width="15.96" height="5.6" fill="#61758f" stroke="#0a0a0a" stroke-width="1.3"/>
<line x1="209.14" y1="622.7" x2="225.1" y2="622.7" stroke="#0a0a0a" stroke-width="1.3"/>
<path d="M217.12 600.75L219.27 603.8L217.12 606.85L214.97 603.8Z" fill="#1a1a1a"/>
<path d="M217.12 603.15L219.27 606.2L217.12 609.25L214.97 606.2Z" fill="#1a1a1a"/>
<path d="M217.12 605.55L219.27 608.6L217.12 611.65L214.97 608.6Z" fill="#1a1a1a"/>
<path d="M217.12 607.95L219.27 611L217.12 614.05L214.97 611Z" fill="#1a1a1a"/>
<line x1="233.08" y1="609.9" x2="233.08" y2="617.4" stroke="#0a0a0a" stroke-width="1.3"/>
<line x1="233.08" y1="623.5" x2="233.08" y2="626.4" stroke="#0a0a0a" stroke-width="1.3"/>
<line x1="228.58" y1="609.9" x2="237.58" y2="609.9" stroke="#0a0a0a" stroke-width="1.3"/>
<line x1="228.58" y1="626.4" x2="237.58" y2="626.4" stroke="#0a0a0a" stroke-width="1.3"/>
<rect x="225.1" y="617.4" width="15.96" height="6.1" fill="#26282b" stroke="#0a0a0a" stroke-width="1.3"/>
<line x1="225.1" y1="620.3" x2="241.06" y2="620.3" stroke="#0a0a0a" stroke-width="1.3"/>
<path d="M233.08 593.55L235.23 596.6L233.08 599.65L230.93 596.6Z" fill="#1a1a1a"/>
<path d="M233.08 595.95L235.23 599L233.08 602.05L230.93 599Z" fill="#1a1a1a"/>
<path d="M233.08 598.35L235.23 601.4L233.08 604.45L230.93 601.4Z" fill="#1a1a1a"/>
<path d="M233.08 600.75L235.23 603.8L233.08 606.85L230.93 603.8Z" fill="#1a1a1a"/>
<line x1="261.02" y1="608.6" x2="261.02" y2="617.4" stroke="#0a0a0a" stroke-width="1.3"/>
<line x1="261.02" y1="623.5" x2="261.02" y2="628.6" stroke="#0a0a0a" stroke-width="1.3"/>
<line x1="256.52" y1="608.6" x2="265.52" y2="608.6" stroke="#0a0a0a" stroke-width="1.3"/>
<line x1="256.52" y1="628.6" x2="265.52" y2="628.6" stroke="#0a0a0a" stroke-width="1.3"/>
<rect x="253.04" y="617.4" width="15.96" height="6.1" fill="#a0c2ec" stroke="#0a0a0a" stroke-width="1.3"/>
<line x1="253.04" y1="620.8" x2="269" y2="620.8" stroke="#0a0a0a" stroke-width="1.3"/>
<path d="M261.02 563.45L263.17 566.5L261.02 569.55L258.87 566.5Z" fill="#1a1a1a"/>
<path d="M261.02 593.55L263.17 596.6L261.02 599.65L258.87 596.6Z" fill="#1a1a1a"/>
<path d="M261.02 595.95L263.17 599L261.02 602.05L258.87 599Z" fill="#1a1a1a"/>
<path d="M261.02 598.35L263.17 601.4L261.02 604.45L258.87 601.4Z" fill="#1a1a1a"/>
<path d="M261.02 600.85L263.17 603.9L261.02 606.95L258.87 603.9Z" fill="#1a1a1a"/>
<line x1="276.98" y1="596.5" x2="276.98" y2="612.6" stroke="#0a0a0a" stroke-width="1.3"/>
<line x1="276.98" y1="623.5" x2="276.98" y2="628.6" stroke="#0a0a0a" stroke-width="1.3"/>
<line x1="272.48" y1="596.5" x2="281.48" y2="596.5" stroke="#0a0a0a" stroke-width="1.3"/>
<line x1="272.48" y1="628.6" x2="281.48" y2="628.6" stroke="#0a0a0a" stroke-width="1.3"/>
<rect x="269" y="612.6" width="15.96" height="10.9" fill="#61758f" stroke="#0a0a0a" stroke-width="1.3"/>
<line x1="269" y1="619.2" x2="284.96" y2="619.2" stroke="#0a0a0a" stroke-width="1.3"/>
<path d="M276.98 578.75L279.13 581.8L276.98 584.85L274.83 581.8Z" fill="#1a1a1a"/>
<path d="M276.98 581.45L279.13 584.5L276.98 587.55L274.83 584.5Z" fill="#1a1a1a"/>
<path d="M276.98 584.15L279.13 587.2L276.98 590.25L274.83 587.2Z" fill="#1a1a1a"/>
<path d="M276.98 586.95L279.13 590L276.98 593.05L274.83 590Z" fill="#1a1a1a"/>
<path d="M276.98 589.65L279.13 592.7L276.98 595.75L274.83 592.7Z" fill="#1a1a1a"/>
<line x1="292.94" y1="581.1" x2="292.94" y2="598.6" stroke="#0a0a0a" stroke-width="1.3"/>
<line x1="292.94" y1="615.5" x2="292.94" y2="627.2" stroke="#0a0a0a" stroke-width="1.3"/>
<line x1="288.44" y1="581.1" x2="297.44" y2="581.1" stroke="#0a0a0a" stroke-width="1.3"/>
<line x1="288.44" y1="627.2" x2="297.44" y2="627.2" stroke="#0a0a0a" stroke-width="1.3"/>
<rect x="284.96" y="598.6" width="15.96" height="16.9" fill="#26282b" stroke="#0a0a0a" stroke-width="1.3"/>
<line x1="284.96" y1="610.2" x2="300.92" y2="610.2" stroke="#0a0a0a" stroke-width="1.3"/>
<path d="M292.94 569.05L295.09 572.1L292.94 575.15L290.79 572.1Z" fill="#1a1a1a"/>
<line x1="320.88" y1="533.6" x2="320.88" y2="564.7" stroke="#0a0a0a" stroke-width="1.3"/>
<line x1="320.88" y1="587.1" x2="320.88" y2="616.3" stroke="#0a0a0a" stroke-width="1.3"/>
<line x1="316.38" y1="533.6" x2="325.38" y2="533.6" stroke="#0a0a0a" stroke-width="1.3"/>
<line x1="316.38" y1="616.3" x2="325.38" y2="616.3" stroke="#0a0a0a" stroke-width="1.3"/>
<rect x="312.9" y="564.7" width="15.96" height="22.4" fill="#a0c2ec" stroke="#0a0a0a" stroke-width="1.3"/>
<line x1="312.9" y1="578.4" x2="328.86" y2="578.4" stroke="#0a0a0a" stroke-width="1.3"/>
<path d="M320.88 511.35L323.03 514.4L320.88 517.45L318.73 514.4Z" fill="#1a1a1a"/>
<path d="M320.88 520.55L323.03 523.6L320.88 526.65L318.73 523.6Z" fill="#1a1a1a"/>
<path d="M320.88 526.75L323.03 529.8L320.88 532.85L318.73 529.8Z" fill="#1a1a1a"/>
<line x1="336.84" y1="529.1" x2="336.84" y2="564" stroke="#0a0a0a" stroke-width="1.3"/>
<line x1="336.84" y1="587.9" x2="336.84" y2="609.1" stroke="#0a0a0a" stroke-width="1.3"/>
<line x1="332.34" y1="529.1" x2="341.34" y2="529.1" stroke="#0a0a0a" stroke-width="1.3"/>
<line x1="332.34" y1="609.1" x2="341.34" y2="609.1" stroke="#0a0a0a" stroke-width="1.3"/>
<rect x="328.86" y="564" width="15.96" height="23.9" fill="#61758f" stroke="#0a0a0a" stroke-width="1.3"/>
<line x1="328.86" y1="578.4" x2="344.82" y2="578.4" stroke="#0a0a0a" stroke-width="1.3"/>
<path d="M336.84 502.15L338.99 505.2L336.84 508.25L334.69 505.2Z" fill="#1a1a1a"/>
<path d="M336.84 506.45L338.99 509.5L336.84 512.55L334.69 509.5Z" fill="#1a1a1a"/>
<path d="M336.84 518.05L338.99 521.1L336.84 524.15L334.69 521.1Z" fill="#1a1a1a"/>
<line x1="352.8" y1="528.1" x2="352.8" y2="559" stroke="#0a0a0a" stroke-width="1.3"/>
<line x1="352.8" y1="580.9" x2="352.8" y2="600.1" stroke="#0a0a0a" stroke-width="1.3"/>
<line x1="348.3" y1="528.1" x2="357.3" y2="528.1" stroke="#0a0a0a" stroke-width="1.3"/>
<line x1="348.3" y1="600.1" x2="357.3" y2="600.1" stroke="#0a0a0a" stroke-width="1.3"/>
<rect x="344.82" y="559" width="15.96" height="21.9" fill="#26282b" stroke="#0a0a0a" stroke-width="1.3"/>
<line x1="344.82" y1="571.7" x2="360.78" y2="571.7" stroke="#0a0a0a" stroke-width="1.3"/>
<path d="M352.8 490.75L354.95 493.8L352.8 496.85L350.65 493.8Z" fill="#1a1a1a"/>
<path d="M352.8 513.85L354.95 516.9L352.8 519.95L350.65 516.9Z" fill="#1a1a1a"/>
<line x1="380.74" y1="620.3" x2="380.74" y2="624" stroke="#0a0a0a" stroke-width="1.3"/>
<line x1="380.74" y1="627.8" x2="380.74" y2="631.5" stroke="#0a0a0a" stroke-width="1.3"/>
<line x1="376.24" y1="620.3" x2="385.24" y2="620.3" stroke="#0a0a0a" stroke-width="1.3"/>
<line x1="376.24" y1="631.5" x2="385.24" y2="631.5" stroke="#0a0a0a" stroke-width="1.3"/>
<rect x="372.76" y="624" width="15.96" height="3.8" fill="#a0c2ec" stroke="#0a0a0a" stroke-width="1.3"/>
<line x1="372.76" y1="626" x2="388.72" y2="626" stroke="#0a0a0a" stroke-width="1.3"/>
<path d="M380.74 611.55L382.89 614.6L380.74 617.65L378.59 614.6Z" fill="#1a1a1a"/>
<path d="M380.74 614.35L382.89 617.4L380.74 620.45L378.59 617.4Z" fill="#1a1a1a"/>
<line x1="396.7" y1="618.3" x2="396.7" y2="623.3" stroke="#0a0a0a" stroke-width="1.3"/>
<line x1="396.7" y1="627" x2="396.7" y2="630" stroke="#0a0a0a" stroke-width="1.3"/>
<line x1="392.2" y1="618.3" x2="401.2" y2="618.3" stroke="#0a0a0a" stroke-width="1.3"/>
<line x1="392.2" y1="630" x2="401.2" y2="630" stroke="#0a0a0a" stroke-width="1.3"/>
<rect x="388.72" y="623.3" width="15.96" height="3.7" fill="#61758f" stroke="#0a0a0a" stroke-width="1.3"/>
<line x1="388.72" y1="625.2" x2="404.68" y2="625.2" stroke="#0a0a0a" stroke-width="1.3"/>
<path d="M396.7 605.45L398.85 608.5L396.7 611.55L394.55 608.5Z" fill="#1a1a1a"/>
<path d="M396.7 608.35L398.85 611.4L396.7 614.45L394.55 611.4Z" fill="#1a1a1a"/>
<path d="M396.7 611.25L398.85 614.3L396.7 617.35L394.55 614.3Z" fill="#1a1a1a"/>
<line x1="412.66" y1="614" x2="412.66" y2="620.8" stroke="#0a0a0a" stroke-width="1.3"/>
<line x1="412.66" y1="625.8" x2="412.66" y2="627.5" stroke="#0a0a0a" stroke-width="1.3"/>
<line x1="408.16" y1="614" x2="417.16" y2="614" stroke="#0a0a0a" stroke-width="1.3"/>
<line x1="408.16" y1="627.5" x2="417.16" y2="627.5" stroke="#0a0a0a" stroke-width="1.3"/>
<rect x="404.68" y="620.8" width="15.96" height="5" fill="#26282b" stroke="#0a0a0a" stroke-width="1.3"/>
<line x1="404.68" y1="623.3" x2="420.64" y2="623.3" stroke="#0a0a0a" stroke-width="1.3"/>
<path d="M412.66 605.75L414.81 608.8L412.66 611.85L410.51 608.8Z" fill="#1a1a1a"/>
<path d="M412.66 608.45L414.81 611.5L412.66 614.55L410.51 611.5Z" fill="#1a1a1a"/>
<line x1="440.6" y1="600.5" x2="440.6" y2="611" stroke="#0a0a0a" stroke-width="1.3"/>
<line x1="440.6" y1="619.4" x2="440.6" y2="629.2" stroke="#0a0a0a" stroke-width="1.3"/>
<line x1="436.1" y1="600.5" x2="445.1" y2="600.5" stroke="#0a0a0a" stroke-width="1.3"/>
<line x1="436.1" y1="629.2" x2="445.1" y2="629.2" stroke="#0a0a0a" stroke-width="1.3"/>
<rect x="432.62" y="611" width="15.96" height="8.4" fill="#a0c2ec" stroke="#0a0a0a" stroke-width="1.3"/>
<line x1="432.62" y1="616.3" x2="448.58" y2="616.3" stroke="#0a0a0a" stroke-width="1.3"/>
<path d="M440.6 550.85L442.75 553.9L440.6 556.95L438.45 553.9Z" fill="#1a1a1a"/>
<path d="M440.6 585.45L442.75 588.5L440.6 591.55L438.45 588.5Z" fill="#1a1a1a"/>
<path d="M440.6 592.95L442.75 596L440.6 599.05L438.45 596Z" fill="#1a1a1a"/>
<path d="M440.6 595.45L442.75 598.5L440.6 601.55L438.45 598.5Z" fill="#1a1a1a"/>
<line x1="456.56" y1="597.1" x2="456.56" y2="611" stroke="#0a0a0a" stroke-width="1.3"/>
<line x1="456.56" y1="621.4" x2="456.56" y2="629.7" stroke="#0a0a0a" stroke-width="1.3"/>
<line x1="452.06" y1="597.1" x2="461.06" y2="597.1" stroke="#0a0a0a" stroke-width="1.3"/>
<line x1="452.06" y1="629.7" x2="461.06" y2="629.7" stroke="#0a0a0a" stroke-width="1.3"/>
<rect x="448.58" y="611" width="15.96" height="10.4" fill="#61758f" stroke="#0a0a0a" stroke-width="1.3"/>
<line x1="448.58" y1="616.3" x2="464.54" y2="616.3" stroke="#0a0a0a" stroke-width="1.3"/>
<path d="M456.56 580.45L458.71 583.5L456.56 586.55L454.41 583.5Z" fill="#1a1a1a"/>
<path d="M456.56 583.25L458.71 586.3L456.56 589.35L454.41 586.3Z" fill="#1a1a1a"/>
<path d="M456.56 586.05L458.71 589.1L456.56 592.15L454.41 589.1Z" fill="#1a1a1a"/>
<path d="M456.56 588.85L458.71 591.9L456.56 594.95L454.41 591.9Z" fill="#1a1a1a"/>
<path d="M456.56 591.45L458.71 594.5L456.56 597.55L454.41 594.5Z" fill="#1a1a1a"/>
<line x1="472.52" y1="589.4" x2="472.52" y2="603.3" stroke="#0a0a0a" stroke-width="1.3"/>
<line x1="472.52" y1="615.8" x2="472.52" y2="626.1" stroke="#0a0a0a" stroke-width="1.3"/>
<line x1="468.02" y1="589.4" x2="477.02" y2="589.4" stroke="#0a0a0a" stroke-width="1.3"/>
<line x1="468.02" y1="626.1" x2="477.02" y2="626.1" stroke="#0a0a0a" stroke-width="1.3"/>
<rect x="464.54" y="603.3" width="15.96" height="12.5" fill="#26282b" stroke="#0a0a0a" stroke-width="1.3"/>
<line x1="464.54" y1="609.7" x2="480.5" y2="609.7" stroke="#0a0a0a" stroke-width="1.3"/>
<line x1="500.46" y1="524.7" x2="500.46" y2="557.3" stroke="#0a0a0a" stroke-width="1.3"/>
<line x1="500.46" y1="581.5" x2="500.46" y2="615.2" stroke="#0a0a0a" stroke-width="1.3"/>
<line x1="495.96" y1="524.7" x2="504.96" y2="524.7" stroke="#0a0a0a" stroke-width="1.3"/>
<line x1="495.96" y1="615.2" x2="504.96" y2="615.2" stroke="#0a0a0a" stroke-width="1.3"/>
<rect x="492.48" y="557.3" width="15.96" height="24.2" fill="#a0c2ec" stroke="#0a0a0a" stroke-width="1.3"/>
<line x1="492.48" y1="567.9" x2="508.44" y2="567.9" stroke="#0a0a0a" stroke-width="1.3"/>
<path d="M500.46 616.95L502.61 620L500.46 623.05L498.31 620Z" fill="#1a1a1a"/>
<line x1="516.42" y1="515.4" x2="516.42" y2="553.1" stroke="#0a0a0a" stroke-width="1.3"/>
<line x1="516.42" y1="581.5" x2="516.42" y2="619.1" stroke="#0a0a0a" stroke-width="1.3"/>
<line x1="511.92" y1="515.4" x2="520.92" y2="515.4" stroke="#0a0a0a" stroke-width="1.3"/>
<line x1="511.92" y1="619.1" x2="520.92" y2="619.1" stroke="#0a0a0a" stroke-width="1.3"/>
<rect x="508.44" y="553.1" width="15.96" height="28.4" fill="#61758f" stroke="#0a0a0a" stroke-width="1.3"/>
<line x1="508.44" y1="566.5" x2="524.4" y2="566.5" stroke="#0a0a0a" stroke-width="1.3"/>
<path d="M516.42 469.55L518.57 472.6L516.42 475.65L514.27 472.6Z" fill="#1a1a1a"/>
<path d="M516.42 493.45L518.57 496.5L516.42 499.55L514.27 496.5Z" fill="#1a1a1a"/>
<path d="M516.42 496.95L518.57 500L516.42 503.05L514.27 500Z" fill="#1a1a1a"/>
<path d="M516.42 500.45L518.57 503.5L516.42 506.55L514.27 503.5Z" fill="#1a1a1a"/>
<line x1="532.38" y1="508.6" x2="532.38" y2="544.2" stroke="#0a0a0a" stroke-width="1.3"/>
<line x1="532.38" y1="576.8" x2="532.38" y2="599.9" stroke="#0a0a0a" stroke-width="1.3"/>
<line x1="527.88" y1="508.6" x2="536.88" y2="508.6" stroke="#0a0a0a" stroke-width="1.3"/>
<line x1="527.88" y1="599.9" x2="536.88" y2="599.9" stroke="#0a0a0a" stroke-width="1.3"/>
<rect x="524.4" y="544.2" width="15.96" height="32.6" fill="#26282b" stroke="#0a0a0a" stroke-width="1.3"/>
<line x1="524.4" y1="564.8" x2="540.36" y2="564.8" stroke="#0a0a0a" stroke-width="1.3"/>
<path d="M532.38 430.85L534.53 433.9L532.38 436.95L530.23 433.9Z" fill="#1a1a1a"/>
<path d="M532.38 461.65L534.53 464.7L532.38 467.75L530.23 464.7Z" fill="#1a1a1a"/>
<path d="M532.38 468.25L534.53 471.3L532.38 474.35L530.23 471.3Z" fill="#1a1a1a"/>
<line x1="560.32" y1="583.4" x2="560.32" y2="599.5" stroke="#0a0a0a" stroke-width="1.3"/>
<line x1="560.32" y1="611.5" x2="560.32" y2="629.5" stroke="#0a0a0a" stroke-width="1.3"/>
<line x1="555.82" y1="583.4" x2="564.82" y2="583.4" stroke="#0a0a0a" stroke-width="1.3"/>
<line x1="555.82" y1="629.5" x2="564.82" y2="629.5" stroke="#0a0a0a" stroke-width="1.3"/>
<rect x="552.34" y="599.5" width="15.96" height="12" fill="#a0c2ec" stroke="#0a0a0a" stroke-width="1.3"/>
<line x1="552.34" y1="605.3" x2="568.3" y2="605.3" stroke="#0a0a0a" stroke-width="1.3"/>
<path d="M560.32 496.55L562.47 499.6L560.32 502.65L558.17 499.6Z" fill="#1a1a1a"/>
<path d="M560.32 562.95L562.47 566L560.32 569.05L558.17 566Z" fill="#1a1a1a"/>
<path d="M560.32 568.95L562.47 572L560.32 575.05L558.17 572Z" fill="#1a1a1a"/>
<path d="M560.32 574.45L562.47 577.5L560.32 580.55L558.17 577.5Z" fill="#1a1a1a"/>
<line x1="576.28" y1="570.3" x2="576.28" y2="593.4" stroke="#0a0a0a" stroke-width="1.3"/>
<line x1="576.28" y1="609.2" x2="576.28" y2="621.1" stroke="#0a0a0a" stroke-width="1.3"/>
<line x1="571.78" y1="570.3" x2="580.78" y2="570.3" stroke="#0a0a0a" stroke-width="1.3"/>
<line x1="571.78" y1="621.1" x2="580.78" y2="621.1" stroke="#0a0a0a" stroke-width="1.3"/>
<rect x="568.3" y="593.4" width="15.96" height="15.8" fill="#61758f" stroke="#0a0a0a" stroke-width="1.3"/>
<line x1="568.3" y1="600.9" x2="584.26" y2="600.9" stroke="#0a0a0a" stroke-width="1.3"/>
<path d="M576.28 534.45L578.43 537.5L576.28 540.55L574.13 537.5Z" fill="#1a1a1a"/>
<path d="M576.28 543.45L578.43 546.5L576.28 549.55L574.13 546.5Z" fill="#1a1a1a"/>
<path d="M576.28 551.95L578.43 555L576.28 558.05L574.13 555Z" fill="#1a1a1a"/>
<path d="M576.28 554.95L578.43 558L576.28 561.05L574.13 558Z" fill="#1a1a1a"/>
<path d="M576.28 557.95L578.43 561L576.28 564.05L574.13 561Z" fill="#1a1a1a"/>
<path d="M576.28 560.95L578.43 564L576.28 567.05L574.13 564Z" fill="#1a1a1a"/>
<path d="M576.28 563.95L578.43 567L576.28 570.05L574.13 567Z" fill="#1a1a1a"/>
<line x1="592.24" y1="559.3" x2="592.24" y2="583.8" stroke="#0a0a0a" stroke-width="1.3"/>
<line x1="592.24" y1="601.5" x2="592.24" y2="620.6" stroke="#0a0a0a" stroke-width="1.3"/>
<line x1="587.74" y1="559.3" x2="596.74" y2="559.3" stroke="#0a0a0a" stroke-width="1.3"/>
<line x1="587.74" y1="620.6" x2="596.74" y2="620.6" stroke="#0a0a0a" stroke-width="1.3"/>
<rect x="584.26" y="583.8" width="15.96" height="17.7" fill="#26282b" stroke="#0a0a0a" stroke-width="1.3"/>
<line x1="584.26" y1="596.2" x2="600.22" y2="596.2" stroke="#0a0a0a" stroke-width="1.3"/>
<path d="M592.24 527.75L594.39 530.8L592.24 533.85L590.09 530.8Z" fill="#1a1a1a"/>
<line x1="620.18" y1="620.6" x2="620.18" y2="625.5" stroke="#0a0a0a" stroke-width="1.3"/>
<line x1="620.18" y1="629" x2="620.18" y2="631.9" stroke="#0a0a0a" stroke-width="1.3"/>
<line x1="615.68" y1="620.6" x2="624.68" y2="620.6" stroke="#0a0a0a" stroke-width="1.3"/>
<line x1="615.68" y1="631.9" x2="624.68" y2="631.9" stroke="#0a0a0a" stroke-width="1.3"/>
<rect x="612.2" y="625.5" width="15.96" height="3.5" fill="#a0c2ec" stroke="#0a0a0a" stroke-width="1.3"/>
<line x1="612.2" y1="627.2" x2="628.16" y2="627.2" stroke="#0a0a0a" stroke-width="1.3"/>
<path d="M620.18 597.05L622.33 600.1L620.18 603.15L618.03 600.1Z" fill="#1a1a1a"/>
<path d="M620.18 606.95L622.33 610L620.18 613.05L618.03 610Z" fill="#1a1a1a"/>
<path d="M620.18 610.95L622.33 614L620.18 617.05L618.03 614Z" fill="#1a1a1a"/>
<path d="M620.18 614.45L622.33 617.5L620.18 620.55L618.03 617.5Z" fill="#1a1a1a"/>
<line x1="636.14" y1="617.2" x2="636.14" y2="624.2" stroke="#0a0a0a" stroke-width="1.3"/>
<line x1="636.14" y1="628.4" x2="636.14" y2="631.9" stroke="#0a0a0a" stroke-width="1.3"/>
<line x1="631.64" y1="617.2" x2="640.64" y2="617.2" stroke="#0a0a0a" stroke-width="1.3"/>
<line x1="631.64" y1="631.9" x2="640.64" y2="631.9" stroke="#0a0a0a" stroke-width="1.3"/>
<rect x="628.16" y="624.2" width="15.96" height="4.2" fill="#61758f" stroke="#0a0a0a" stroke-width="1.3"/>
<line x1="628.16" y1="626.3" x2="644.12" y2="626.3" stroke="#0a0a0a" stroke-width="1.3"/>
<path d="M636.14 595.95L638.29 599L636.14 602.05L633.99 599Z" fill="#1a1a1a"/>
<path d="M636.14 599.25L638.29 602.3L636.14 605.35L633.99 602.3Z" fill="#1a1a1a"/>
<path d="M636.14 602.55L638.29 605.6L636.14 608.65L633.99 605.6Z" fill="#1a1a1a"/>
<path d="M636.14 605.85L638.29 608.9L636.14 611.95L633.99 608.9Z" fill="#1a1a1a"/>
<path d="M636.14 609.15L638.29 612.2L636.14 615.25L633.99 612.2Z" fill="#1a1a1a"/>
<path d="M636.14 611.95L638.29 615L636.14 618.05L633.99 615Z" fill="#1a1a1a"/>
<line x1="652.1" y1="613.6" x2="652.1" y2="621.1" stroke="#0a0a0a" stroke-width="1.3"/>
<line x1="652.1" y1="627.7" x2="652.1" y2="631.6" stroke="#0a0a0a" stroke-width="1.3"/>
<line x1="647.6" y1="613.6" x2="656.6" y2="613.6" stroke="#0a0a0a" stroke-width="1.3"/>
<line x1="647.6" y1="631.6" x2="656.6" y2="631.6" stroke="#0a0a0a" stroke-width="1.3"/>
<rect x="644.12" y="621.1" width="15.96" height="6.6" fill="#26282b" stroke="#0a0a0a" stroke-width="1.3"/>
<line x1="644.12" y1="624.6" x2="660.08" y2="624.6" stroke="#0a0a0a" stroke-width="1.3"/>
<path d="M652.1 567.65L654.25 570.7L652.1 573.75L649.95 570.7Z" fill="#1a1a1a"/>
<path d="M652.1 585.45L654.25 588.5L652.1 591.55L649.95 588.5Z" fill="#1a1a1a"/>
<path d="M652.1 591.45L654.25 594.5L652.1 597.55L649.95 594.5Z" fill="#1a1a1a"/>
<path d="M652.1 601.45L654.25 604.5L652.1 607.55L649.95 604.5Z" fill="#1a1a1a"/>
<path d="M652.1 604.45L654.25 607.5L652.1 610.55L649.95 607.5Z" fill="#1a1a1a"/>
<path d="M652.1 607.45L654.25 610.5L652.1 613.55L649.95 610.5Z" fill="#1a1a1a"/>
<path d="M81.44 533.1V528.2H97.4V533.1" stroke="#1a1a1a" stroke-width="1.2" fill="none"/>
<path transform="translate(86.07,524.79) scale(0.00654,-0.00654)" d="M963 1247 604 1053 963 858 905 760 569 963V586H455V963L119 760L61 858L420 1053L61 1247L119 1346L455 1143V1520H569V1143L905 1346Z" fill="#111" stroke="#111" stroke-width="18.3" stroke-linejoin="round"/>
<path d="M97.4 503.3V498.4H113.36V503.3" stroke="#1a1a1a" stroke-width="1.2" fill="none"/>
<path transform="translate(95.33,494.99) scale(0.00654,-0.00654)" d="M963 1247 604 1053 963 858 905 760 569 963V586H455V963L119 760L61 858L420 1053L61 1247L119 1346L455 1143V1520H569V1143L905 1346Z" fill="#111" stroke="#111" stroke-width="18.3" stroke-linejoin="round"/>
<path transform="translate(102.03,494.99) scale(0.00654,-0.00654)" d="M963 1247 604 1053 963 858 905 760 569 963V586H455V963L119 760L61 858L420 1053L61 1247L119 1346L455 1143V1520H569V1143L905 1346Z" fill="#111" stroke="#111" stroke-width="18.3" stroke-linejoin="round"/>
<path transform="translate(108.73,494.99) scale(0.00654,-0.00654)" d="M963 1247 604 1053 963 858 905 760 569 963V586H455V963L119 760L61 858L420 1053L61 1247L119 1346L455 1143V1520H569V1143L905 1346Z" fill="#111" stroke="#111" stroke-width="18.3" stroke-linejoin="round"/>
<path d="M81.44 473.4V468.5H113.36V473.4" stroke="#1a1a1a" stroke-width="1.2" fill="none"/>
<path transform="translate(87.35,465.09) scale(0.00654,-0.00654)" d="M963 1247 604 1053 963 858 905 760 569 963V586H455V963L119 760L61 858L420 1053L61 1247L119 1346L455 1143V1520H569V1143L905 1346Z" fill="#111" stroke="#111" stroke-width="18.3" stroke-linejoin="round"/>
<path transform="translate(94.05,465.09) scale(0.00654,-0.00654)" d="M963 1247 604 1053 963 858 905 760 569 963V586H455V963L119 760L61 858L420 1053L61 1247L119 1346L455 1143V1520H569V1143L905 1346Z" fill="#111" stroke="#111" stroke-width="18.3" stroke-linejoin="round"/>
<path transform="translate(100.75,465.09) scale(0.00654,-0.00654)" d="M963 1247 604 1053 963 858 905 760 569 963V586H455V963L119 760L61 858L420 1053L61 1247L119 1346L455 1143V1520H569V1143L905 1346Z" fill="#111" stroke="#111" stroke-width="18.3" stroke-linejoin="round"/>
<path d="M157.26 491.1V486.2H173.22V491.1" stroke="#1a1a1a" stroke-width="1.2" fill="none"/>
<path transform="translate(155.19,482.79) scale(0.00654,-0.00654)" d="M963 1247 604 1053 963 858 905 760 569 963V586H455V963L119 760L61 858L420 1053L61 1247L119 1346L455 1143V1520H569V1143L905 1346Z" fill="#111" stroke="#111" stroke-width="18.3" stroke-linejoin="round"/>
<path transform="translate(161.89,482.79) scale(0.00654,-0.00654)" d="M963 1247 604 1053 963 858 905 760 569 963V586H455V963L119 760L61 858L420 1053L61 1247L119 1346L455 1143V1520H569V1143L905 1346Z" fill="#111" stroke="#111" stroke-width="18.3" stroke-linejoin="round"/>
<path transform="translate(168.59,482.79) scale(0.00654,-0.00654)" d="M963 1247 604 1053 963 858 905 760 569 963V586H455V963L119 760L61 858L420 1053L61 1247L119 1346L455 1143V1520H569V1143L905 1346Z" fill="#111" stroke="#111" stroke-width="18.3" stroke-linejoin="round"/>
<path d="M141.3 461.2V456.3H157.26V461.2" stroke="#1a1a1a" stroke-width="1.2" fill="none"/>
<path transform="translate(139.23,452.89) scale(0.00654,-0.00654)" d="M963 1247 604 1053 963 858 905 760 569 963V586H455V963L119 760L61 858L420 1053L61 1247L119 1346L455 1143V1520H569V1143L905 1346Z" fill="#111" stroke="#111" stroke-width="18.3" stroke-linejoin="round"/>
<path transform="translate(145.93,452.89) scale(0.00654,-0.00654)" d="M963 1247 604 1053 963 858 905 760 569 963V586H455V963L119 760L61 858L420 1053L61 1247L119 1346L455 1143V1520H569V1143L905 1346Z" fill="#111" stroke="#111" stroke-width="18.3" stroke-linejoin="round"/>
<path transform="translate(152.63,452.89) scale(0.00654,-0.00654)" d="M963 1247 604 1053 963 858 905 760 569 963V586H455V963L119 760L61 858L420 1053L61 1247L119 1346L455 1143V1520H569V1143L905 1346Z" fill="#111" stroke="#111" stroke-width="18.3" stroke-linejoin="round"/>
<path d="M141.3 431.3V426.4H173.22V431.3" stroke="#1a1a1a" stroke-width="1.2" fill="none"/>
<path transform="translate(147.21,422.99) scale(0.00654,-0.00654)" d="M963 1247 604 1053 963 858 905 760 569 963V586H455V963L119 760L61 858L420 1053L61 1247L119 1346L455 1143V1520H569V1143L905 1346Z" fill="#111" stroke="#111" stroke-width="18.3" stroke-linejoin="round"/>
<path transform="translate(153.91,422.99) scale(0.00654,-0.00654)" d="M963 1247 604 1053 963 858 905 760 569 963V586H455V963L119 760L61 858L420 1053L61 1247L119 1346L455 1143V1520H569V1143L905 1346Z" fill="#111" stroke="#111" stroke-width="18.3" stroke-linejoin="round"/>
<path transform="translate(160.61,422.99) scale(0.00654,-0.00654)" d="M963 1247 604 1053 963 858 905 760 569 963V586H455V963L119 760L61 858L420 1053L61 1247L119 1346L455 1143V1520H569V1143L905 1346Z" fill="#111" stroke="#111" stroke-width="18.3" stroke-linejoin="round"/>
<path d="M201.16 587.5V582.6H217.12V587.5" stroke="#1a1a1a" stroke-width="1.2" fill="none"/>
<path transform="translate(199.09,579.19) scale(0.00654,-0.00654)" d="M963 1247 604 1053 963 858 905 760 569 963V586H455V963L119 760L61 858L420 1053L61 1247L119 1346L455 1143V1520H569V1143L905 1346Z" fill="#111" stroke="#111" stroke-width="18.3" stroke-linejoin="round"/>
<path transform="translate(205.79,579.19) scale(0.00654,-0.00654)" d="M963 1247 604 1053 963 858 905 760 569 963V586H455V963L119 760L61 858L420 1053L61 1247L119 1346L455 1143V1520H569V1143L905 1346Z" fill="#111" stroke="#111" stroke-width="18.3" stroke-linejoin="round"/>
<path transform="translate(212.49,579.19) scale(0.00654,-0.00654)" d="M963 1247 604 1053 963 858 905 760 569 963V586H455V963L119 760L61 858L420 1053L61 1247L119 1346L455 1143V1520H569V1143L905 1346Z" fill="#111" stroke="#111" stroke-width="18.3" stroke-linejoin="round"/>
<path d="M217.12 558V553.1H233.08V558" stroke="#1a1a1a" stroke-width="1.2" fill="none"/>
<path transform="translate(215.05,549.69) scale(0.00654,-0.00654)" d="M963 1247 604 1053 963 858 905 760 569 963V586H455V963L119 760L61 858L420 1053L61 1247L119 1346L455 1143V1520H569V1143L905 1346Z" fill="#111" stroke="#111" stroke-width="18.3" stroke-linejoin="round"/>
<path transform="translate(221.75,549.69) scale(0.00654,-0.00654)" d="M963 1247 604 1053 963 858 905 760 569 963V586H455V963L119 760L61 858L420 1053L61 1247L119 1346L455 1143V1520H569V1143L905 1346Z" fill="#111" stroke="#111" stroke-width="18.3" stroke-linejoin="round"/>
<path transform="translate(228.45,549.69) scale(0.00654,-0.00654)" d="M963 1247 604 1053 963 858 905 760 569 963V586H455V963L119 760L61 858L420 1053L61 1247L119 1346L455 1143V1520H569V1143L905 1346Z" fill="#111" stroke="#111" stroke-width="18.3" stroke-linejoin="round"/>
<path d="M201.16 528V523.1H233.08V528" stroke="#1a1a1a" stroke-width="1.2" fill="none"/>
<path transform="translate(207.07,519.69) scale(0.00654,-0.00654)" d="M963 1247 604 1053 963 858 905 760 569 963V586H455V963L119 760L61 858L420 1053L61 1247L119 1346L455 1143V1520H569V1143L905 1346Z" fill="#111" stroke="#111" stroke-width="18.3" stroke-linejoin="round"/>
<path transform="translate(213.77,519.69) scale(0.00654,-0.00654)" d="M963 1247 604 1053 963 858 905 760 569 963V586H455V963L119 760L61 858L420 1053L61 1247L119 1346L455 1143V1520H569V1143L905 1346Z" fill="#111" stroke="#111" stroke-width="18.3" stroke-linejoin="round"/>
<path transform="translate(220.47,519.69) scale(0.00654,-0.00654)" d="M963 1247 604 1053 963 858 905 760 569 963V586H455V963L119 760L61 858L420 1053L61 1247L119 1346L455 1143V1520H569V1143L905 1346Z" fill="#111" stroke="#111" stroke-width="18.3" stroke-linejoin="round"/>
<path d="M261.02 551.6V546.7H276.98V551.6" stroke="#1a1a1a" stroke-width="1.2" fill="none"/>
<path transform="translate(262.3,543.29) scale(0.00654,-0.00654)" d="M963 1247 604 1053 963 858 905 760 569 963V586H455V963L119 760L61 858L420 1053L61 1247L119 1346L455 1143V1520H569V1143L905 1346Z" fill="#111" stroke="#111" stroke-width="18.3" stroke-linejoin="round"/>
<path transform="translate(269,543.29) scale(0.00654,-0.00654)" d="M963 1247 604 1053 963 858 905 760 569 963V586H455V963L119 760L61 858L420 1053L61 1247L119 1346L455 1143V1520H569V1143L905 1346Z" fill="#111" stroke="#111" stroke-width="18.3" stroke-linejoin="round"/>
<path d="M276.98 522.2V517.3H292.94V522.2" stroke="#1a1a1a" stroke-width="1.2" fill="none"/>
<path transform="translate(274.91,513.89) scale(0.00654,-0.00654)" d="M963 1247 604 1053 963 858 905 760 569 963V586H455V963L119 760L61 858L420 1053L61 1247L119 1346L455 1143V1520H569V1143L905 1346Z" fill="#111" stroke="#111" stroke-width="18.3" stroke-linejoin="round"/>
<path transform="translate(281.61,513.89) scale(0.00654,-0.00654)" d="M963 1247 604 1053 963 858 905 760 569 963V586H455V963L119 760L61 858L420 1053L61 1247L119 1346L455 1143V1520H569V1143L905 1346Z" fill="#111" stroke="#111" stroke-width="18.3" stroke-linejoin="round"/>
<path transform="translate(288.31,513.89) scale(0.00654,-0.00654)" d="M963 1247 604 1053 963 858 905 760 569 963V586H455V963L119 760L61 858L420 1053L61 1247L119 1346L455 1143V1520H569V1143L905 1346Z" fill="#111" stroke="#111" stroke-width="18.3" stroke-linejoin="round"/>
<path d="M261.02 492.5V487.6H292.94V492.5" stroke="#1a1a1a" stroke-width="1.2" fill="none"/>
<path transform="translate(266.93,484.19) scale(0.00654,-0.00654)" d="M963 1247 604 1053 963 858 905 760 569 963V586H455V963L119 760L61 858L420 1053L61 1247L119 1346L455 1143V1520H569V1143L905 1346Z" fill="#111" stroke="#111" stroke-width="18.3" stroke-linejoin="round"/>
<path transform="translate(273.63,484.19) scale(0.00654,-0.00654)" d="M963 1247 604 1053 963 858 905 760 569 963V586H455V963L119 760L61 858L420 1053L61 1247L119 1346L455 1143V1520H569V1143L905 1346Z" fill="#111" stroke="#111" stroke-width="18.3" stroke-linejoin="round"/>
<path transform="translate(280.33,484.19) scale(0.00654,-0.00654)" d="M963 1247 604 1053 963 858 905 760 569 963V586H455V963L119 760L61 858L420 1053L61 1247L119 1346L455 1143V1520H569V1143L905 1346Z" fill="#111" stroke="#111" stroke-width="18.3" stroke-linejoin="round"/>
<path d="M320.88 492.1V487.2H336.84V492.1" stroke="#1a1a1a" stroke-width="1.2" fill="none"/>
<text x="321.34" y="483" font-size="13.5" textLength="15.18" lengthAdjust="spacingAndGlyphs" fill="#050505" >ns</text>
<path d="M336.84 462.4V457.5H352.8V462.4" stroke="#1a1a1a" stroke-width="1.2" fill="none"/>
<path transform="translate(341.47,454.09) scale(0.00654,-0.00654)" d="M963 1247 604 1053 963 858 905 760 569 963V586H455V963L119 760L61 858L420 1053L61 1247L119 1346L455 1143V1520H569V1143L905 1346Z" fill="#111" stroke="#111" stroke-width="18.3" stroke-linejoin="round"/>
<path d="M320.88 432V427.1H352.8V432" stroke="#1a1a1a" stroke-width="1.2" fill="none"/>
<path transform="translate(330.14,423.69) scale(0.00654,-0.00654)" d="M963 1247 604 1053 963 858 905 760 569 963V586H455V963L119 760L61 858L420 1053L61 1247L119 1346L455 1143V1520H569V1143L905 1346Z" fill="#111" stroke="#111" stroke-width="18.3" stroke-linejoin="round"/>
<path transform="translate(336.84,423.69) scale(0.00654,-0.00654)" d="M963 1247 604 1053 963 858 905 760 569 963V586H455V963L119 760L61 858L420 1053L61 1247L119 1346L455 1143V1520H569V1143L905 1346Z" fill="#111" stroke="#111" stroke-width="18.3" stroke-linejoin="round"/>
<path d="M380.74 593.3V588.4H396.7V593.3" stroke="#1a1a1a" stroke-width="1.2" fill="none"/>
<path transform="translate(382.02,584.99) scale(0.00654,-0.00654)" d="M963 1247 604 1053 963 858 905 760 569 963V586H455V963L119 760L61 858L420 1053L61 1247L119 1346L455 1143V1520H569V1143L905 1346Z" fill="#111" stroke="#111" stroke-width="18.3" stroke-linejoin="round"/>
<path transform="translate(388.72,584.99) scale(0.00654,-0.00654)" d="M963 1247 604 1053 963 858 905 760 569 963V586H455V963L119 760L61 858L420 1053L61 1247L119 1346L455 1143V1520H569V1143L905 1346Z" fill="#111" stroke="#111" stroke-width="18.3" stroke-linejoin="round"/>
<path d="M396.7 563.4V558.5H412.66V563.4" stroke="#1a1a1a" stroke-width="1.2" fill="none"/>
<path transform="translate(394.63,555.09) scale(0.00654,-0.00654)" d="M963 1247 604 1053 963 858 905 760 569 963V586H455V963L119 760L61 858L420 1053L61 1247L119 1346L455 1143V1520H569V1143L905 1346Z" fill="#111" stroke="#111" stroke-width="18.3" stroke-linejoin="round"/>
<path transform="translate(401.33,555.09) scale(0.00654,-0.00654)" d="M963 1247 604 1053 963 858 905 760 569 963V586H455V963L119 760L61 858L420 1053L61 1247L119 1346L455 1143V1520H569V1143L905 1346Z" fill="#111" stroke="#111" stroke-width="18.3" stroke-linejoin="round"/>
<path transform="translate(408.03,555.09) scale(0.00654,-0.00654)" d="M963 1247 604 1053 963 858 905 760 569 963V586H455V963L119 760L61 858L420 1053L61 1247L119 1346L455 1143V1520H569V1143L905 1346Z" fill="#111" stroke="#111" stroke-width="18.3" stroke-linejoin="round"/>
<path d="M380.74 533.5V528.6H412.66V533.5" stroke="#1a1a1a" stroke-width="1.2" fill="none"/>
<path transform="translate(386.65,525.19) scale(0.00654,-0.00654)" d="M963 1247 604 1053 963 858 905 760 569 963V586H455V963L119 760L61 858L420 1053L61 1247L119 1346L455 1143V1520H569V1143L905 1346Z" fill="#111" stroke="#111" stroke-width="18.3" stroke-linejoin="round"/>
<path transform="translate(393.35,525.19) scale(0.00654,-0.00654)" d="M963 1247 604 1053 963 858 905 760 569 963V586H455V963L119 760L61 858L420 1053L61 1247L119 1346L455 1143V1520H569V1143L905 1346Z" fill="#111" stroke="#111" stroke-width="18.3" stroke-linejoin="round"/>
<path transform="translate(400.05,525.19) scale(0.00654,-0.00654)" d="M963 1247 604 1053 963 858 905 760 569 963V586H455V963L119 760L61 858L420 1053L61 1247L119 1346L455 1143V1520H569V1143L905 1346Z" fill="#111" stroke="#111" stroke-width="18.3" stroke-linejoin="round"/>
<path d="M440.6 539.3V534.4H456.56V539.3" stroke="#1a1a1a" stroke-width="1.2" fill="none"/>
<text x="441.06" y="530.2" font-size="13.5" textLength="15.18" lengthAdjust="spacingAndGlyphs" fill="#050505" >ns</text>
<path d="M456.56 509.8V504.9H472.52V509.8" stroke="#1a1a1a" stroke-width="1.2" fill="none"/>
<path transform="translate(454.49,501.49) scale(0.00654,-0.00654)" d="M963 1247 604 1053 963 858 905 760 569 963V586H455V963L119 760L61 858L420 1053L61 1247L119 1346L455 1143V1520H569V1143L905 1346Z" fill="#111" stroke="#111" stroke-width="18.3" stroke-linejoin="round"/>
<path transform="translate(461.19,501.49) scale(0.00654,-0.00654)" d="M963 1247 604 1053 963 858 905 760 569 963V586H455V963L119 760L61 858L420 1053L61 1247L119 1346L455 1143V1520H569V1143L905 1346Z" fill="#111" stroke="#111" stroke-width="18.3" stroke-linejoin="round"/>
<path transform="translate(467.89,501.49) scale(0.00654,-0.00654)" d="M963 1247 604 1053 963 858 905 760 569 963V586H455V963L119 760L61 858L420 1053L61 1247L119 1346L455 1143V1520H569V1143L905 1346Z" fill="#111" stroke="#111" stroke-width="18.3" stroke-linejoin="round"/>
<path d="M440.6 479.4V474.5H472.52V479.4" stroke="#1a1a1a" stroke-width="1.2" fill="none"/>
<path transform="translate(446.51,471.09) scale(0.00654,-0.00654)" d="M963 1247 604 1053 963 858 905 760 569 963V586H455V963L119 760L61 858L420 1053L61 1247L119 1346L455 1143V1520H569V1143L905 1346Z" fill="#111" stroke="#111" stroke-width="18.3" stroke-linejoin="round"/>
<path transform="translate(453.21,471.09) scale(0.00654,-0.00654)" d="M963 1247 604 1053 963 858 905 760 569 963V586H455V963L119 760L61 858L420 1053L61 1247L119 1346L455 1143V1520H569V1143L905 1346Z" fill="#111" stroke="#111" stroke-width="18.3" stroke-linejoin="round"/>
<path transform="translate(459.91,471.09) scale(0.00654,-0.00654)" d="M963 1247 604 1053 963 858 905 760 569 963V586H455V963L119 760L61 858L420 1053L61 1247L119 1346L455 1143V1520H569V1143L905 1346Z" fill="#111" stroke="#111" stroke-width="18.3" stroke-linejoin="round"/>
<path d="M500.46 458.4V453.5H516.42V458.4" stroke="#1a1a1a" stroke-width="1.2" fill="none"/>
<text x="500.92" y="449.3" font-size="13.5" textLength="15.18" lengthAdjust="spacingAndGlyphs" fill="#050505" >ns</text>
<path d="M516.42 419.4V414.5H532.38V419.4" stroke="#1a1a1a" stroke-width="1.2" fill="none"/>
<text x="516.88" y="410.3" font-size="13.5" textLength="15.18" lengthAdjust="spacingAndGlyphs" fill="#050505" >ns</text>
<path d="M500.46 389.1V384.2H532.38V389.1" stroke="#1a1a1a" stroke-width="1.2" fill="none"/>
<path transform="translate(513.07,380.79) scale(0.00654,-0.00654)" d="M963 1247 604 1053 963 858 905 760 569 963V586H455V963L119 760L61 858L420 1053L61 1247L119 1346L455 1143V1520H569V1143L905 1346Z" fill="#111" stroke="#111" stroke-width="18.3" stroke-linejoin="round"/>
<path d="M560.32 485.1V480.2H576.28V485.1" stroke="#1a1a1a" stroke-width="1.2" fill="none"/>
<path transform="translate(558.25,476.79) scale(0.00654,-0.00654)" d="M963 1247 604 1053 963 858 905 760 569 963V586H455V963L119 760L61 858L420 1053L61 1247L119 1346L455 1143V1520H569V1143L905 1346Z" fill="#111" stroke="#111" stroke-width="18.3" stroke-linejoin="round"/>
<path transform="translate(564.95,476.79) scale(0.00654,-0.00654)" d="M963 1247 604 1053 963 858 905 760 569 963V586H455V963L119 760L61 858L420 1053L61 1247L119 1346L455 1143V1520H569V1143L905 1346Z" fill="#111" stroke="#111" stroke-width="18.3" stroke-linejoin="round"/>
<path transform="translate(571.65,476.79) scale(0.00654,-0.00654)" d="M963 1247 604 1053 963 858 905 760 569 963V586H455V963L119 760L61 858L420 1053L61 1247L119 1346L455 1143V1520H569V1143L905 1346Z" fill="#111" stroke="#111" stroke-width="18.3" stroke-linejoin="round"/>
<path d="M576.28 455.2V450.3H592.24V455.2" stroke="#1a1a1a" stroke-width="1.2" fill="none"/>
<path transform="translate(574.21,446.89) scale(0.00654,-0.00654)" d="M963 1247 604 1053 963 858 905 760 569 963V586H455V963L119 760L61 858L420 1053L61 1247L119 1346L455 1143V1520H569V1143L905 1346Z" fill="#111" stroke="#111" stroke-width="18.3" stroke-linejoin="round"/>
<path transform="translate(580.91,446.89) scale(0.00654,-0.00654)" d="M963 1247 604 1053 963 858 905 760 569 963V586H455V963L119 760L61 858L420 1053L61 1247L119 1346L455 1143V1520H569V1143L905 1346Z" fill="#111" stroke="#111" stroke-width="18.3" stroke-linejoin="round"/>
<path transform="translate(587.61,446.89) scale(0.00654,-0.00654)" d="M963 1247 604 1053 963 858 905 760 569 963V586H455V963L119 760L61 858L420 1053L61 1247L119 1346L455 1143V1520H569V1143L905 1346Z" fill="#111" stroke="#111" stroke-width="18.3" stroke-linejoin="round"/>
<path d="M560.32 425.3V420.4H592.24V425.3" stroke="#1a1a1a" stroke-width="1.2" fill="none"/>
<path transform="translate(566.23,416.99) scale(0.00654,-0.00654)" d="M963 1247 604 1053 963 858 905 760 569 963V586H455V963L119 760L61 858L420 1053L61 1247L119 1346L455 1143V1520H569V1143L905 1346Z" fill="#111" stroke="#111" stroke-width="18.3" stroke-linejoin="round"/>
<path transform="translate(572.93,416.99) scale(0.00654,-0.00654)" d="M963 1247 604 1053 963 858 905 760 569 963V586H455V963L119 760L61 858L420 1053L61 1247L119 1346L455 1143V1520H569V1143L905 1346Z" fill="#111" stroke="#111" stroke-width="18.3" stroke-linejoin="round"/>
<path transform="translate(579.63,416.99) scale(0.00654,-0.00654)" d="M963 1247 604 1053 963 858 905 760 569 963V586H455V963L119 760L61 858L420 1053L61 1247L119 1346L455 1143V1520H569V1143L905 1346Z" fill="#111" stroke="#111" stroke-width="18.3" stroke-linejoin="round"/>
<path d="M620.18 584.3V579.4H636.14V584.3" stroke="#1a1a1a" stroke-width="1.2" fill="none"/>
<path transform="translate(621.46,575.99) scale(0.00654,-0.00654)" d="M963 1247 604 1053 963 858 905 760 569 963V586H455V963L119 760L61 858L420 1053L61 1247L119 1346L455 1143V1520H569V1143L905 1346Z" fill="#111" stroke="#111" stroke-width="18.3" stroke-linejoin="round"/>
<path transform="translate(628.16,575.99) scale(0.00654,-0.00654)" d="M963 1247 604 1053 963 858 905 760 569 963V586H455V963L119 760L61 858L420 1053L61 1247L119 1346L455 1143V1520H569V1143L905 1346Z" fill="#111" stroke="#111" stroke-width="18.3" stroke-linejoin="round"/>
<path d="M636.14 554.7V549.8H652.1V554.7" stroke="#1a1a1a" stroke-width="1.2" fill="none"/>
<text x="636.6" y="545.6" font-size="13.5" textLength="15.18" lengthAdjust="spacingAndGlyphs" fill="#050505" >ns</text>
<path d="M620.18 525V520.1H652.1V525" stroke="#1a1a1a" stroke-width="1.2" fill="none"/>
<path transform="translate(626.09,516.69) scale(0.00654,-0.00654)" d="M963 1247 604 1053 963 858 905 760 569 963V586H455V963L119 760L61 858L420 1053L61 1247L119 1346L455 1143V1520H569V1143L905 1346Z" fill="#111" stroke="#111" stroke-width="18.3" stroke-linejoin="round"/>
<path transform="translate(632.79,516.69) scale(0.00654,-0.00654)" d="M963 1247 604 1053 963 858 905 760 569 963V586H455V963L119 760L61 858L420 1053L61 1247L119 1346L455 1143V1520H569V1143L905 1346Z" fill="#111" stroke="#111" stroke-width="18.3" stroke-linejoin="round"/>
<path transform="translate(639.49,516.69) scale(0.00654,-0.00654)" d="M963 1247 604 1053 963 858 905 760 569 963V586H455V963L119 760L61 858L420 1053L61 1247L119 1346L455 1143V1520H569V1143L905 1346Z" fill="#111" stroke="#111" stroke-width="18.3" stroke-linejoin="round"/>
<rect x="51.6" y="361.4" width="630.8" height="280.9" fill="none" stroke="#2a2a2a" stroke-width="1.3"/>
</g></svg>
</body></html>
